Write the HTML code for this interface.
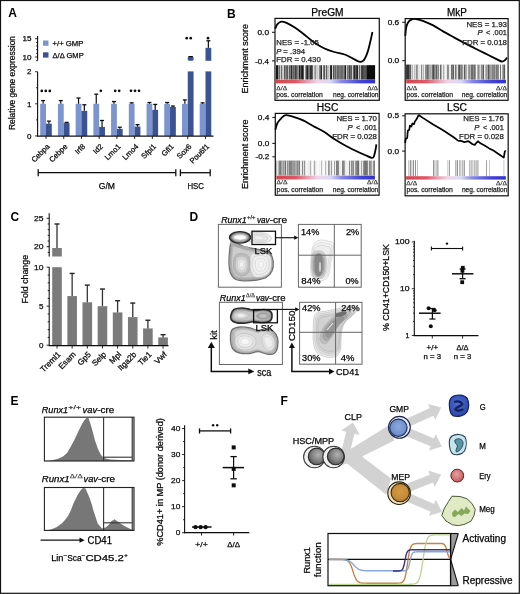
<!DOCTYPE html>
<html><head><meta charset="utf-8"><style>
html,body{margin:0;padding:0;background:#fff;}
body{width:520px;height:594px;overflow:hidden;}
svg{display:block;font-family:"Liberation Sans", sans-serif;}
</style></head><body>
<svg width="520" height="594" viewBox="0 0 520 594">
<defs>
<filter id="bl1" x="-30%" y="-30%" width="160%" height="160%"><feGaussianBlur stdDeviation="1"/></filter>
<filter id="bl2" x="-30%" y="-30%" width="160%" height="160%"><feGaussianBlur stdDeviation="2"/></filter>
<filter id="bh" x="-5%" y="-5%" width="110%" height="110%"><feGaussianBlur stdDeviation="0.55 0.2"/></filter>
<filter id="gblur" x="0" y="0" width="520" height="594" filterUnits="userSpaceOnUse"><feGaussianBlur stdDeviation="0.35"/></filter>
<filter id="bl05" x="-30%" y="-30%" width="160%" height="160%"><feGaussianBlur stdDeviation="0.6"/></filter>
<linearGradient id="cbar" x1="0" x2="1" y1="0" y2="0">
<stop offset="0" stop-color="#d4444e"/><stop offset="0.2" stop-color="#da5a66"/><stop offset="0.32" stop-color="#e6a0b2"/><stop offset="0.42" stop-color="#eed6e8"/>
<stop offset="0.55" stop-color="#d8d8f4"/><stop offset="0.66" stop-color="#8a8ae4"/><stop offset="0.85" stop-color="#4646d2"/><stop offset="1" stop-color="#3030c6"/>
</linearGradient>

<radialGradient id="gHSC" cx="0.6" cy="0.4" r="0.65"><stop offset="0" stop-color="#b0b0b0"/><stop offset="0.55" stop-color="#858585"/><stop offset="1" stop-color="#555"/></radialGradient>
<radialGradient id="gGMP" cx="0.5" cy="0.45" r="0.6"><stop offset="0" stop-color="#8ea9dc"/><stop offset="0.7" stop-color="#7090cf"/><stop offset="1" stop-color="#4a68a8"/></radialGradient>
<radialGradient id="gMEP" cx="0.5" cy="0.45" r="0.6"><stop offset="0" stop-color="#d49a44"/><stop offset="0.7" stop-color="#c48a38"/><stop offset="1" stop-color="#9a6a24"/></radialGradient>
<radialGradient id="gEry" cx="0.45" cy="0.4" r="0.6"><stop offset="0" stop-color="#e8a0a0"/><stop offset="1" stop-color="#c45c5c"/></radialGradient>
<radialGradient id="gG" cx="0.45" cy="0.4" r="0.6"><stop offset="0" stop-color="#4c6cd2"/><stop offset="1" stop-color="#2c48aa"/></radialGradient>

</defs>
<rect x="0" y="0" width="520" height="594" fill="#fff"/>
<g filter="url(#gblur)">
<text x="8.2" y="17.3" font-size="12" font-weight="bold" >A</text>
<text x="15.3" y="83" font-size="8.4" text-anchor="middle" stroke="#111" stroke-width="0.25" textLength="94" lengthAdjust="spacingAndGlyphs" transform="rotate(-90 15.3 83)" >Relative gene expression</text>
<line x1="37.6" y1="36" x2="37.6" y2="60.6" stroke="#111" stroke-width="1.1" />
<line x1="36.1" y1="60.66" x2="37.6" y2="60.66" stroke="#111" stroke-width="0.9" />
<line x1="35.1" y1="57" x2="37.6" y2="57" stroke="#111" stroke-width="0.9" />
<line x1="36.1" y1="53.34" x2="37.6" y2="53.34" stroke="#111" stroke-width="0.9" />
<line x1="36.1" y1="49.68" x2="37.6" y2="49.68" stroke="#111" stroke-width="0.9" />
<line x1="36.1" y1="46.02" x2="37.6" y2="46.02" stroke="#111" stroke-width="0.9" />
<line x1="36.1" y1="42.36" x2="37.6" y2="42.36" stroke="#111" stroke-width="0.9" />
<line x1="35.1" y1="38.7" x2="37.6" y2="38.7" stroke="#111" stroke-width="0.9" />
<text x="31.5" y="41.45" font-size="8" text-anchor="end" stroke="#111" stroke-width="0.25" textLength="9" lengthAdjust="spacingAndGlyphs" >15</text>
<text x="31.5" y="59.75" font-size="8" text-anchor="end" stroke="#111" stroke-width="0.25" textLength="9" lengthAdjust="spacingAndGlyphs" >10</text>
<line x1="37.6" y1="71.8" x2="37.6" y2="136.4" stroke="#111" stroke-width="1.1" />
<line x1="35.1" y1="135.9" x2="37.6" y2="135.9" stroke="#111" stroke-width="0.9" />
<line x1="36.1" y1="119.85" x2="37.6" y2="119.85" stroke="#111" stroke-width="0.9" />
<line x1="35.1" y1="103.8" x2="37.6" y2="103.8" stroke="#111" stroke-width="0.9" />
<line x1="36.1" y1="87.75" x2="37.6" y2="87.75" stroke="#111" stroke-width="0.9" />
<line x1="35.1" y1="71.7" x2="37.6" y2="71.7" stroke="#111" stroke-width="0.9" />
<text x="31.5" y="74.45" font-size="8" text-anchor="end" stroke="#111" stroke-width="0.25" >2</text>
<text x="31.5" y="106.55" font-size="8" text-anchor="end" stroke="#111" stroke-width="0.25" >1</text>
<text x="31.5" y="138.65" font-size="8" text-anchor="end" stroke="#111" stroke-width="0.25" >0</text>
<rect x="43" y="40.5" width="5.5" height="5.3" fill="#7d95cf" />
<rect x="43" y="52.3" width="5.5" height="5.3" fill="#3b5290" />
<text x="52.5" y="45.95" font-size="7.7" stroke="#111" stroke-width="0.25" textLength="30.8" lengthAdjust="spacingAndGlyphs" >+/+ GMP</text>
<text x="52.5" y="57.65" font-size="7.7" stroke="#111" stroke-width="0.25" textLength="31.2" lengthAdjust="spacingAndGlyphs" >Δ/Δ GMP</text>
<rect x="40.2" y="103.8" width="5.8" height="32.1" fill="#7d95cf" />
<line x1="43.1" y1="103.8" x2="43.1" y2="100.59" stroke="#111" stroke-width="1.2" />
<line x1="41.1" y1="100.59" x2="45.1" y2="100.59" stroke="#111" stroke-width="1.3" />
<rect x="46" y="123.7" width="5.8" height="12.2" fill="#3b5290" />
<line x1="48.9" y1="123.7" x2="48.9" y2="121.13" stroke="#111" stroke-width="1.2" />
<line x1="46.9" y1="121.13" x2="50.9" y2="121.13" stroke="#111" stroke-width="1.3" />
<line x1="46" y1="136" x2="46" y2="139" stroke="#111" stroke-width="0.9" />
<text x="50.3" y="147" font-size="7.6" text-anchor="end" stroke="#111" stroke-width="0.25" transform="rotate(-45 50.3 147)" >Cebpa</text>
<rect x="57.92" y="103.8" width="5.8" height="32.1" fill="#7d95cf" />
<line x1="60.82" y1="103.8" x2="60.82" y2="100.59" stroke="#111" stroke-width="1.2" />
<line x1="58.82" y1="100.59" x2="62.82" y2="100.59" stroke="#111" stroke-width="1.3" />
<rect x="63.72" y="123.06" width="5.8" height="12.84" fill="#3b5290" />
<line x1="66.62" y1="123.06" x2="66.62" y2="122.42" stroke="#111" stroke-width="1.2" />
<line x1="64.62" y1="122.42" x2="68.62" y2="122.42" stroke="#111" stroke-width="1.3" />
<line x1="63.72" y1="136" x2="63.72" y2="139" stroke="#111" stroke-width="0.9" />
<text x="68.02" y="147" font-size="7.6" text-anchor="end" stroke="#111" stroke-width="0.25" transform="rotate(-45 68.02 147)" >Cebpe</text>
<rect x="75.64" y="103.8" width="5.8" height="32.1" fill="#7d95cf" />
<line x1="78.54" y1="103.8" x2="78.54" y2="98.02" stroke="#111" stroke-width="1.2" />
<line x1="76.54" y1="98.02" x2="80.54" y2="98.02" stroke="#111" stroke-width="1.3" />
<rect x="81.44" y="110.86" width="5.8" height="25.04" fill="#3b5290" />
<line x1="84.34" y1="110.86" x2="84.34" y2="104.76" stroke="#111" stroke-width="1.2" />
<line x1="82.34" y1="104.76" x2="86.34" y2="104.76" stroke="#111" stroke-width="1.3" />
<line x1="81.44" y1="136" x2="81.44" y2="139" stroke="#111" stroke-width="0.9" />
<text x="85.74" y="147" font-size="7.6" text-anchor="end" stroke="#111" stroke-width="0.25" transform="rotate(-45 85.74 147)" >Irf8</text>
<rect x="93.36" y="103.8" width="5.8" height="32.1" fill="#7d95cf" />
<line x1="96.26" y1="103.8" x2="96.26" y2="94.17" stroke="#111" stroke-width="1.2" />
<line x1="94.26" y1="94.17" x2="98.26" y2="94.17" stroke="#111" stroke-width="1.3" />
<rect x="99.16" y="126.91" width="5.8" height="8.99" fill="#3b5290" />
<line x1="102.06" y1="126.91" x2="102.06" y2="120.49" stroke="#111" stroke-width="1.2" />
<line x1="100.06" y1="120.49" x2="104.06" y2="120.49" stroke="#111" stroke-width="1.3" />
<line x1="99.16" y1="136" x2="99.16" y2="139" stroke="#111" stroke-width="0.9" />
<text x="103.46" y="147" font-size="7.6" text-anchor="end" stroke="#111" stroke-width="0.25" transform="rotate(-45 103.46 147)" >Id2</text>
<rect x="111.08" y="103.8" width="5.8" height="32.1" fill="#7d95cf" />
<line x1="113.98" y1="103.8" x2="113.98" y2="101.55" stroke="#111" stroke-width="1.2" />
<line x1="111.98" y1="101.55" x2="115.98" y2="101.55" stroke="#111" stroke-width="1.3" />
<rect x="116.88" y="128.84" width="5.8" height="7.06" fill="#3b5290" />
<line x1="119.78" y1="128.84" x2="119.78" y2="127.23" stroke="#111" stroke-width="1.2" />
<line x1="117.78" y1="127.23" x2="121.78" y2="127.23" stroke="#111" stroke-width="1.3" />
<line x1="116.88" y1="136" x2="116.88" y2="139" stroke="#111" stroke-width="0.9" />
<text x="121.18" y="147" font-size="7.6" text-anchor="end" stroke="#111" stroke-width="0.25" transform="rotate(-45 121.18 147)" >Lmo1</text>
<rect x="128.8" y="103.8" width="5.8" height="32.1" fill="#7d95cf" />
<line x1="131.7" y1="103.8" x2="131.7" y2="102.84" stroke="#111" stroke-width="1.2" />
<line x1="129.7" y1="102.84" x2="133.7" y2="102.84" stroke="#111" stroke-width="1.3" />
<rect x="134.6" y="126.59" width="5.8" height="9.31" fill="#3b5290" />
<line x1="137.5" y1="126.59" x2="137.5" y2="124.67" stroke="#111" stroke-width="1.2" />
<line x1="135.5" y1="124.67" x2="139.5" y2="124.67" stroke="#111" stroke-width="1.3" />
<line x1="134.6" y1="136" x2="134.6" y2="139" stroke="#111" stroke-width="0.9" />
<text x="138.9" y="147" font-size="7.6" text-anchor="end" stroke="#111" stroke-width="0.25" transform="rotate(-45 138.9 147)" >Lmo4</text>
<rect x="146.52" y="103.8" width="5.8" height="32.1" fill="#7d95cf" />
<line x1="149.42" y1="103.8" x2="149.42" y2="102.52" stroke="#111" stroke-width="1.2" />
<line x1="147.42" y1="102.52" x2="151.42" y2="102.52" stroke="#111" stroke-width="1.3" />
<rect x="152.32" y="109.9" width="5.8" height="26" fill="#3b5290" />
<line x1="155.22" y1="109.9" x2="155.22" y2="104.44" stroke="#111" stroke-width="1.2" />
<line x1="153.22" y1="104.44" x2="157.22" y2="104.44" stroke="#111" stroke-width="1.3" />
<line x1="152.32" y1="136" x2="152.32" y2="139" stroke="#111" stroke-width="0.9" />
<text x="156.62" y="147" font-size="7.6" text-anchor="end" stroke="#111" stroke-width="0.25" transform="rotate(-45 156.62 147)" >Sfpi1</text>
<rect x="164.24" y="103.8" width="5.8" height="32.1" fill="#7d95cf" />
<line x1="167.14" y1="103.8" x2="167.14" y2="102.52" stroke="#111" stroke-width="1.2" />
<line x1="165.14" y1="102.52" x2="169.14" y2="102.52" stroke="#111" stroke-width="1.3" />
<rect x="170.04" y="107.01" width="5.8" height="28.89" fill="#3b5290" />
<line x1="172.94" y1="107.01" x2="172.94" y2="106.05" stroke="#111" stroke-width="1.2" />
<line x1="170.94" y1="106.05" x2="174.94" y2="106.05" stroke="#111" stroke-width="1.3" />
<line x1="170.04" y1="136" x2="170.04" y2="139" stroke="#111" stroke-width="0.9" />
<text x="174.34" y="147" font-size="7.6" text-anchor="end" stroke="#111" stroke-width="0.25" transform="rotate(-45 174.34 147)" >Gfi1</text>
<rect x="181.96" y="103.8" width="5.8" height="32.1" fill="#7d95cf" />
<line x1="184.86" y1="103.8" x2="184.86" y2="99.95" stroke="#111" stroke-width="1.2" />
<line x1="182.86" y1="99.95" x2="186.86" y2="99.95" stroke="#111" stroke-width="1.3" />
<rect x="187.76" y="71.4" width="5.8" height="64.5" fill="#3b5290" />
<rect x="187.76" y="56.2" width="5.8" height="4.6" fill="#3b5290" rx="1.5"/>
<line x1="188.56" y1="56.6" x2="192.76" y2="56.6" stroke="#111" stroke-width="1.2" />
<line x1="187.76" y1="136" x2="187.76" y2="139" stroke="#111" stroke-width="0.9" />
<text x="192.06" y="147" font-size="7.6" text-anchor="end" stroke="#111" stroke-width="0.25" transform="rotate(-45 192.06 147)" >Sox6</text>
<rect x="199.68" y="103.8" width="5.8" height="32.1" fill="#7d95cf" />
<line x1="202.58" y1="103.8" x2="202.58" y2="102.84" stroke="#111" stroke-width="1.2" />
<line x1="200.58" y1="102.84" x2="204.58" y2="102.84" stroke="#111" stroke-width="1.3" />
<rect x="205.48" y="71.4" width="5.8" height="64.5" fill="#3b5290" />
<rect x="205.48" y="47.8" width="5.8" height="13" fill="#3b5290" />
<line x1="208.38" y1="47.8" x2="208.38" y2="40.8" stroke="#111" stroke-width="1.2" />
<line x1="206.38" y1="40.8" x2="210.38" y2="40.8" stroke="#111" stroke-width="1.3" />
<line x1="205.48" y1="136" x2="205.48" y2="139" stroke="#111" stroke-width="0.9" />
<text x="209.78" y="147" font-size="7.6" text-anchor="end" stroke="#111" stroke-width="0.25" transform="rotate(-45 209.78 147)" >Pou6f1</text>
<line x1="37.1" y1="136.1" x2="213.5" y2="136.1" stroke="#111" stroke-width="1.2" />
<circle cx="41.8" cy="90.9" r="1.35" fill="#111"/>
<circle cx="45.8" cy="90.9" r="1.35" fill="#111"/>
<circle cx="49.8" cy="90.9" r="1.35" fill="#111"/>
<circle cx="100.8" cy="90.8" r="1.35" fill="#111"/>
<circle cx="115.2" cy="90.8" r="1.35" fill="#111"/>
<circle cx="119.2" cy="90.8" r="1.35" fill="#111"/>
<circle cx="131" cy="90.8" r="1.35" fill="#111"/>
<circle cx="135" cy="90.8" r="1.35" fill="#111"/>
<circle cx="139" cy="90.8" r="1.35" fill="#111"/>
<circle cx="186.7" cy="38.2" r="1.35" fill="#111"/>
<circle cx="190.7" cy="38.2" r="1.35" fill="#111"/>
<circle cx="208" cy="38.2" r="1.35" fill="#111"/>
<line x1="38.2" y1="172.7" x2="175.8" y2="172.7" stroke="#111" stroke-width="1.3" />
<line x1="38.2" y1="169.3" x2="38.2" y2="176.2" stroke="#111" stroke-width="1.3" />
<line x1="175.8" y1="169.3" x2="175.8" y2="176.2" stroke="#111" stroke-width="1.3" />
<line x1="180.4" y1="172.7" x2="210.2" y2="172.7" stroke="#111" stroke-width="1.3" />
<line x1="180.4" y1="169.3" x2="180.4" y2="176.2" stroke="#111" stroke-width="1.3" />
<line x1="210.2" y1="169.3" x2="210.2" y2="176.2" stroke="#111" stroke-width="1.3" />
<text x="98.8" y="188.6" font-size="9" stroke="#111" stroke-width="0.25" textLength="16.2" lengthAdjust="spacingAndGlyphs" >G/M</text>
<text x="187.4" y="188.6" font-size="9" stroke="#111" stroke-width="0.25" textLength="16.5" lengthAdjust="spacingAndGlyphs" >HSC</text>
<text x="227" y="17.6" font-size="12" font-weight="bold" >B</text>
<text x="248.2" y="58.7" font-size="9.8" text-anchor="middle" stroke="#111" stroke-width="0.25" textLength="69.5" lengthAdjust="spacingAndGlyphs" transform="rotate(-90 248.2 58.7)" >Enrichment score</text>
<text x="248.2" y="154.3" font-size="9.8" text-anchor="middle" stroke="#111" stroke-width="0.25" textLength="69.5" lengthAdjust="spacingAndGlyphs" transform="rotate(-90 248.2 154.3)" >Enrichment score</text>
<text x="327.45" y="15.8" font-size="10" text-anchor="middle" stroke="#111" stroke-width="0.25" textLength="32.2" lengthAdjust="spacingAndGlyphs" >PreGM</text>
<line x1="272" y1="32.3" x2="275" y2="32.3" stroke="#111" stroke-width="1" />
<text x="269" y="34.98" font-size="7.8" text-anchor="end" stroke="#111" stroke-width="0.25" textLength="11.5" lengthAdjust="spacingAndGlyphs" >0.0</text>
<line x1="272" y1="60.9" x2="275" y2="60.9" stroke="#111" stroke-width="1" />
<text x="269" y="63.58" font-size="7.8" text-anchor="end" stroke="#111" stroke-width="0.25" textLength="13.8" lengthAdjust="spacingAndGlyphs" >-0.4</text>
<g filter="url(#bh)">
<rect x="276" y="65.2" width="1" height="14.4" fill="rgb(25,25,25)"/>
<rect x="277" y="65.2" width="1" height="14.4" fill="rgb(25,25,25)"/>
<rect x="278" y="65.2" width="1" height="14.4" fill="rgb(144,144,144)"/>
<rect x="279" y="65.2" width="1" height="14.4" fill="rgb(109,109,109)"/>
<rect x="280" y="65.2" width="1" height="14.4" fill="rgb(207,207,207)"/>
<rect x="281" y="65.2" width="1" height="14.4" fill="rgb(108,108,108)"/>
<rect x="282" y="65.2" width="1" height="14.4" fill="rgb(194,194,194)"/>
<rect x="283" y="65.2" width="1" height="14.4" fill="rgb(209,209,209)"/>
<rect x="284" y="65.2" width="1" height="14.4" fill="rgb(90,90,90)"/>
<rect x="285" y="65.2" width="1" height="14.4" fill="rgb(135,135,135)"/>
<rect x="286" y="65.2" width="1" height="14.4" fill="rgb(105,105,105)"/>
<rect x="287" y="65.2" width="1" height="14.4" fill="rgb(93,93,93)"/>
<rect x="288" y="65.2" width="1" height="14.4" fill="rgb(187,187,187)"/>
<rect x="289" y="65.2" width="1" height="14.4" fill="rgb(88,88,88)"/>
<rect x="290" y="65.2" width="1" height="14.4" fill="rgb(126,126,126)"/>
<rect x="291" y="65.2" width="1" height="14.4" fill="rgb(42,42,42)"/>
<rect x="292" y="65.2" width="1" height="14.4" fill="rgb(122,122,122)"/>
<rect x="293" y="65.2" width="1" height="14.4" fill="rgb(95,95,95)"/>
<rect x="294" y="65.2" width="1" height="14.4" fill="rgb(120,120,120)"/>
<rect x="295" y="65.2" width="1" height="14.4" fill="rgb(65,65,65)"/>
<rect x="296" y="65.2" width="1" height="14.4" fill="rgb(95,95,95)"/>
<rect x="297" y="65.2" width="1" height="14.4" fill="rgb(125,125,125)"/>
<rect x="298" y="65.2" width="1" height="14.4" fill="rgb(150,150,150)"/>
<rect x="299" y="65.2" width="1" height="14.4" fill="rgb(34,34,34)"/>
<rect x="300" y="65.2" width="1" height="14.4" fill="rgb(98,98,98)"/>
<rect x="301" y="65.2" width="1" height="14.4" fill="rgb(48,48,48)"/>
<rect x="302" y="65.2" width="1" height="14.4" fill="rgb(31,31,31)"/>
<rect x="303" y="65.2" width="1" height="14.4" fill="rgb(85,85,85)"/>
<rect x="304" y="65.2" width="1" height="14.4" fill="rgb(234,234,234)"/>
<rect x="305" y="65.2" width="1" height="14.4" fill="rgb(145,145,145)"/>
<rect x="306" y="65.2" width="1" height="14.4" fill="rgb(75,75,75)"/>
<rect x="307" y="65.2" width="1" height="14.4" fill="rgb(34,34,34)"/>
<rect x="308" y="65.2" width="1" height="14.4" fill="rgb(110,110,110)"/>
<rect x="309" y="65.2" width="1" height="14.4" fill="rgb(119,119,119)"/>
<rect x="310" y="65.2" width="1" height="14.4" fill="rgb(49,49,49)"/>
<rect x="311" y="65.2" width="1" height="14.4" fill="rgb(56,56,56)"/>
<rect x="312" y="65.2" width="1" height="14.4" fill="rgb(100,100,100)"/>
<rect x="313" y="65.2" width="1" height="14.4" fill="rgb(220,220,220)"/>
<rect x="314" y="65.2" width="1" height="14.4" fill="rgb(178,178,178)"/>
<rect x="315" y="65.2" width="1" height="14.4" fill="rgb(147,147,147)"/>
<rect x="316" y="65.2" width="1" height="14.4" fill="rgb(210,210,210)"/>
<rect x="317" y="65.2" width="1" height="14.4" fill="rgb(207,207,207)"/>
<rect x="318" y="65.2" width="1" height="14.4" fill="rgb(221,221,221)"/>
<rect x="319" y="65.2" width="1" height="14.4" fill="rgb(138,138,138)"/>
<rect x="320" y="65.2" width="1" height="14.4" fill="rgb(99,99,99)"/>
<rect x="321" y="65.2" width="1" height="14.4" fill="rgb(43,43,43)"/>
<rect x="322" y="65.2" width="1" height="14.4" fill="rgb(230,230,230)"/>
<rect x="323" y="65.2" width="1" height="14.4" fill="rgb(123,123,123)"/>
<rect x="324" y="65.2" width="1" height="14.4" fill="rgb(87,87,87)"/>
<rect x="325" y="65.2" width="1" height="14.4" fill="rgb(200,200,200)"/>
<rect x="326" y="65.2" width="1" height="14.4" fill="rgb(97,97,97)"/>
<rect x="327" y="65.2" width="1" height="14.4" fill="rgb(184,184,184)"/>
<rect x="328" y="65.2" width="1" height="14.4" fill="rgb(191,191,191)"/>
<rect x="329" y="65.2" width="1" height="14.4" fill="rgb(214,214,214)"/>
<rect x="330" y="65.2" width="1" height="14.4" fill="rgb(48,48,48)"/>
<rect x="331" y="65.2" width="1" height="14.4" fill="rgb(34,34,34)"/>
<rect x="332" y="65.2" width="1" height="14.4" fill="rgb(212,212,212)"/>
<rect x="333" y="65.2" width="1" height="14.4" fill="rgb(86,86,86)"/>
<rect x="334" y="65.2" width="1" height="14.4" fill="rgb(132,132,132)"/>
<rect x="335" y="65.2" width="1" height="14.4" fill="rgb(101,101,101)"/>
<rect x="336" y="65.2" width="1" height="14.4" fill="rgb(146,146,146)"/>
<rect x="337" y="65.2" width="1" height="14.4" fill="rgb(102,102,102)"/>
<rect x="338" y="65.2" width="1" height="14.4" fill="rgb(108,108,108)"/>
<rect x="339" y="65.2" width="1" height="14.4" fill="rgb(124,124,124)"/>
<rect x="340" y="65.2" width="1" height="14.4" fill="rgb(116,116,116)"/>
<rect x="341" y="65.2" width="1" height="14.4" fill="rgb(105,105,105)"/>
<rect x="342" y="65.2" width="1" height="14.4" fill="rgb(110,110,110)"/>
<rect x="343" y="65.2" width="1" height="14.4" fill="rgb(134,134,134)"/>
<rect x="344" y="65.2" width="1" height="14.4" fill="rgb(95,95,95)"/>
<rect x="345" y="65.2" width="1" height="14.4" fill="rgb(36,36,36)"/>
<rect x="346" y="65.2" width="1" height="14.4" fill="rgb(207,207,207)"/>
<rect x="347" y="65.2" width="1" height="14.4" fill="rgb(115,115,115)"/>
<rect x="348" y="65.2" width="1" height="14.4" fill="rgb(135,135,135)"/>
<rect x="349" y="65.2" width="1" height="14.4" fill="rgb(68,68,68)"/>
<rect x="350" y="65.2" width="1" height="14.4" fill="rgb(107,107,107)"/>
<rect x="351" y="65.2" width="1" height="14.4" fill="rgb(93,93,93)"/>
<rect x="352" y="65.2" width="1" height="14.4" fill="rgb(205,205,205)"/>
<rect x="353" y="65.2" width="1" height="14.4" fill="rgb(94,94,94)"/>
<rect x="354" y="65.2" width="1" height="14.4" fill="rgb(43,43,43)"/>
<rect x="355" y="65.2" width="1" height="14.4" fill="rgb(93,93,93)"/>
<rect x="356" y="65.2" width="1" height="14.4" fill="rgb(58,58,58)"/>
<rect x="357" y="65.2" width="1" height="14.4" fill="rgb(32,32,32)"/>
<rect x="358" y="65.2" width="1" height="14.4" fill="rgb(198,198,198)"/>
<rect x="359" y="65.2" width="1" height="14.4" fill="rgb(101,101,101)"/>
<rect x="360" y="65.2" width="1" height="14.4" fill="rgb(183,183,183)"/>
<rect x="361" y="65.2" width="1" height="14.4" fill="rgb(68,68,68)"/>
<rect x="362" y="65.2" width="1" height="14.4" fill="rgb(61,61,61)"/>
<rect x="363" y="65.2" width="1" height="14.4" fill="rgb(82,82,82)"/>
<rect x="364" y="65.2" width="1" height="14.4" fill="rgb(86,86,86)"/>
<rect x="365" y="65.2" width="1" height="14.4" fill="rgb(84,84,84)"/>
<rect x="366" y="65.2" width="1" height="14.4" fill="rgb(73,73,73)"/>
<rect x="367" y="65.2" width="1" height="14.4" fill="rgb(8,8,8)"/>
<rect x="368" y="65.2" width="1" height="14.4" fill="rgb(8,8,8)"/>
<rect x="369" y="65.2" width="1" height="14.4" fill="rgb(8,8,8)"/>
<rect x="370" y="65.2" width="1" height="14.4" fill="rgb(8,8,8)"/>
<rect x="371" y="65.2" width="1" height="14.4" fill="rgb(8,8,8)"/>
<rect x="372" y="65.2" width="1" height="14.4" fill="rgb(8,8,8)"/>
<rect x="373" y="65.2" width="1" height="14.4" fill="rgb(8,8,8)"/>
<rect x="374" y="65.2" width="1" height="14.4" fill="rgb(8,8,8)"/>
<rect x="375" y="65.2" width="0.1" height="14.4" fill="rgb(8,8,8)"/>
</g>
<rect x="276" y="79.8" width="99.1" height="3.6" fill="url(#cbar)" />
<text x="276.2" y="89.91" font-size="7" fill="#333" stroke="#333" stroke-width="0.25" font-family='"Liberation Serif", serif' >Δ/Δ</text>
<text x="378.1" y="89.91" font-size="7" text-anchor="end" fill="#333" stroke="#333" stroke-width="0.25" font-family='"Liberation Serif", serif' >Δ/Δ</text>
<text x="276.3" y="97.17" font-size="6.9" fill="#222" stroke="#222" stroke-width="0.25" textLength="46.5" lengthAdjust="spacingAndGlyphs" >pos. correlation</text>
<text x="378.5" y="97.17" font-size="6.9" text-anchor="end" fill="#222" stroke="#222" stroke-width="0.25" textLength="45.5" lengthAdjust="spacingAndGlyphs" >neg. correlation</text>
<path d="M275.2 28.8 C275.53 28.05 276.18 25.5 277.2 24.3 C278.22 23.1 279.75 21.83 281.3 21.6 C282.85 21.37 284.25 21.92 286.5 22.9 C288.75 23.88 292.02 25.7 294.8 27.5 C297.58 29.3 300.08 31.28 303.2 33.7 C306.32 36.12 310.03 39.58 313.5 42 C316.97 44.42 320.53 46.53 324 48.2 C327.47 49.87 330.85 50.95 334.3 52 C337.75 53.05 341.58 53.4 344.7 54.5 C347.82 55.6 350.58 57.42 353 58.6 C355.42 59.78 357.47 61.25 359.2 61.6 C360.93 61.95 362.02 62.23 363.4 60.7 C364.78 59.17 366.28 55.85 367.5 52.4 C368.72 48.95 369.88 43.4 370.7 40 C371.52 36.6 372.12 33.33 372.4 32" fill="none" stroke="#000" stroke-width="1.8" stroke-linejoin="round"/>
<text x="276.3" y="44.68" font-size="7.8" fill="#222" stroke="#222" stroke-width="0.25" textLength="42.5" lengthAdjust="spacingAndGlyphs" >NES = -1.05</text>
<text x="276.3" y="53.98" font-size="7.8" font-style="italic" fill="#222" stroke="#222" stroke-width="0.25" >P</text>
<text x="283.3" y="53.98" font-size="7.8" fill="#222" stroke="#222" stroke-width="0.25" textLength="21.8" lengthAdjust="spacingAndGlyphs" >= .394</text>
<text x="276.3" y="62.48" font-size="7.8" fill="#222" stroke="#222" stroke-width="0.25" textLength="44.5" lengthAdjust="spacingAndGlyphs" >FDR = 0.430</text>
<rect x="275" y="18.4" width="104.3" height="81.9" fill="none" stroke="#111" stroke-width="1.2" />
<text x="456.95" y="16" font-size="10" text-anchor="middle" stroke="#111" stroke-width="0.25" textLength="19.8" lengthAdjust="spacingAndGlyphs" >MkP</text>
<line x1="402.2" y1="22.3" x2="405.2" y2="22.3" stroke="#111" stroke-width="1" />
<text x="399.2" y="24.98" font-size="7.8" text-anchor="end" stroke="#111" stroke-width="0.25" textLength="11.5" lengthAdjust="spacingAndGlyphs" >0.6</text>
<line x1="402.2" y1="60.7" x2="405.2" y2="60.7" stroke="#111" stroke-width="1" />
<text x="399.2" y="63.38" font-size="7.8" text-anchor="end" stroke="#111" stroke-width="0.25" textLength="11.5" lengthAdjust="spacingAndGlyphs" >0.0</text>
<g filter="url(#bh)">
<rect x="406.2" y="64.6" width="1" height="15" fill="rgb(15,15,15)"/>
<rect x="407.2" y="64.6" width="1" height="15" fill="rgb(15,15,15)"/>
<rect x="408.2" y="64.6" width="1" height="15" fill="rgb(15,15,15)"/>
<rect x="409.2" y="64.6" width="1" height="15" fill="rgb(82,82,82)"/>
<rect x="410.2" y="64.6" width="1" height="15" fill="rgb(62,62,62)"/>
<rect x="411.2" y="64.6" width="1" height="15" fill="rgb(215,215,215)"/>
<rect x="412.2" y="64.6" width="1" height="15" fill="rgb(161,161,161)"/>
<rect x="413.2" y="64.6" width="1" height="15" fill="rgb(244,244,244)"/>
<rect x="414.2" y="64.6" width="1" height="15" fill="rgb(176,176,176)"/>
<rect x="415.2" y="64.6" width="1" height="15" fill="rgb(215,215,215)"/>
<rect x="416.2" y="64.6" width="1" height="15" fill="rgb(118,118,118)"/>
<rect x="417.2" y="64.6" width="1" height="15" fill="rgb(147,147,147)"/>
<rect x="418.2" y="64.6" width="1" height="15" fill="rgb(228,228,228)"/>
<rect x="419.2" y="64.6" width="1" height="15" fill="rgb(227,227,227)"/>
<rect x="420.2" y="64.6" width="1" height="15" fill="rgb(236,236,236)"/>
<rect x="421.2" y="64.6" width="1" height="15" fill="rgb(111,111,111)"/>
<rect x="422.2" y="64.6" width="1" height="15" fill="rgb(218,218,218)"/>
<rect x="423.2" y="64.6" width="1" height="15" fill="rgb(165,165,165)"/>
<rect x="424.2" y="64.6" width="1" height="15" fill="rgb(242,242,242)"/>
<rect x="425.2" y="64.6" width="1" height="15" fill="rgb(114,114,114)"/>
<rect x="426.2" y="64.6" width="1" height="15" fill="rgb(117,117,117)"/>
<rect x="427.2" y="64.6" width="1" height="15" fill="rgb(79,79,79)"/>
<rect x="428.2" y="64.6" width="1" height="15" fill="rgb(106,106,106)"/>
<rect x="429.2" y="64.6" width="1" height="15" fill="rgb(164,164,164)"/>
<rect x="430.2" y="64.6" width="1" height="15" fill="rgb(151,151,151)"/>
<rect x="431.2" y="64.6" width="1" height="15" fill="rgb(176,176,176)"/>
<rect x="432.2" y="64.6" width="1" height="15" fill="rgb(78,78,78)"/>
<rect x="433.2" y="64.6" width="1" height="15" fill="rgb(41,41,41)"/>
<rect x="434.2" y="64.6" width="1" height="15" fill="rgb(110,110,110)"/>
<rect x="435.2" y="64.6" width="1" height="15" fill="rgb(133,133,133)"/>
<rect x="436.2" y="64.6" width="1" height="15" fill="rgb(63,63,63)"/>
<rect x="437.2" y="64.6" width="1" height="15" fill="rgb(149,149,149)"/>
<rect x="438.2" y="64.6" width="1" height="15" fill="rgb(114,114,114)"/>
<rect x="439.2" y="64.6" width="1" height="15" fill="rgb(236,236,236)"/>
<rect x="440.2" y="64.6" width="1" height="15" fill="rgb(72,72,72)"/>
<rect x="441.2" y="64.6" width="1" height="15" fill="rgb(164,164,164)"/>
<rect x="442.2" y="64.6" width="1" height="15" fill="rgb(239,239,239)"/>
<rect x="443.2" y="64.6" width="1" height="15" fill="rgb(155,155,155)"/>
<rect x="444.2" y="64.6" width="1" height="15" fill="rgb(216,216,216)"/>
<rect x="445.2" y="64.6" width="1" height="15" fill="rgb(242,242,242)"/>
<rect x="446.2" y="64.6" width="1" height="15" fill="rgb(228,228,228)"/>
<rect x="447.2" y="64.6" width="1" height="15" fill="rgb(113,113,113)"/>
<rect x="448.2" y="64.6" width="1" height="15" fill="rgb(128,128,128)"/>
<rect x="449.2" y="64.6" width="1" height="15" fill="rgb(232,232,232)"/>
<rect x="450.2" y="64.6" width="1" height="15" fill="rgb(232,232,232)"/>
<rect x="451.2" y="64.6" width="1" height="15" fill="rgb(78,78,78)"/>
<rect x="452.2" y="64.6" width="1" height="15" fill="rgb(106,106,106)"/>
<rect x="453.2" y="64.6" width="1" height="15" fill="rgb(63,63,63)"/>
<rect x="454.2" y="64.6" width="1" height="15" fill="rgb(233,233,233)"/>
<rect x="455.2" y="64.6" width="1" height="15" fill="rgb(84,84,84)"/>
<rect x="456.2" y="64.6" width="1" height="15" fill="rgb(161,161,161)"/>
<rect x="457.2" y="64.6" width="1" height="15" fill="rgb(225,225,225)"/>
<rect x="458.2" y="64.6" width="1" height="15" fill="rgb(75,75,75)"/>
<rect x="459.2" y="64.6" width="1" height="15" fill="rgb(52,52,52)"/>
<rect x="460.2" y="64.6" width="1" height="15" fill="rgb(128,128,128)"/>
<rect x="461.2" y="64.6" width="1" height="15" fill="rgb(100,100,100)"/>
<rect x="462.2" y="64.6" width="1" height="15" fill="rgb(143,143,143)"/>
<rect x="463.2" y="64.6" width="1" height="15" fill="rgb(215,215,215)"/>
<rect x="464.2" y="64.6" width="1" height="15" fill="rgb(55,55,55)"/>
<rect x="465.2" y="64.6" width="1" height="15" fill="rgb(146,146,146)"/>
<rect x="466.2" y="64.6" width="1" height="15" fill="rgb(164,164,164)"/>
<rect x="467.2" y="64.6" width="1" height="15" fill="rgb(235,235,235)"/>
<rect x="468.2" y="64.6" width="1" height="15" fill="rgb(135,135,135)"/>
<rect x="469.2" y="64.6" width="1" height="15" fill="rgb(129,129,129)"/>
<rect x="470.2" y="64.6" width="1" height="15" fill="rgb(164,164,164)"/>
<rect x="471.2" y="64.6" width="1" height="15" fill="rgb(80,80,80)"/>
<rect x="472.2" y="64.6" width="1" height="15" fill="rgb(83,83,83)"/>
<rect x="473.2" y="64.6" width="1" height="15" fill="rgb(120,120,120)"/>
<rect x="474.2" y="64.6" width="1" height="15" fill="rgb(79,79,79)"/>
<rect x="475.2" y="64.6" width="1" height="15" fill="rgb(135,135,135)"/>
<rect x="476.2" y="64.6" width="1" height="15" fill="rgb(247,247,247)"/>
<rect x="477.2" y="64.6" width="1" height="15" fill="rgb(156,156,156)"/>
<rect x="478.2" y="64.6" width="1" height="15" fill="rgb(127,127,127)"/>
<rect x="479.2" y="64.6" width="1" height="15" fill="rgb(166,166,166)"/>
<rect x="480.2" y="64.6" width="1" height="15" fill="rgb(215,215,215)"/>
<rect x="481.2" y="64.6" width="1" height="15" fill="rgb(116,116,116)"/>
<rect x="482.2" y="64.6" width="1" height="15" fill="rgb(134,134,134)"/>
<rect x="483.2" y="64.6" width="1" height="15" fill="rgb(55,55,55)"/>
<rect x="484.2" y="64.6" width="1" height="15" fill="rgb(245,245,245)"/>
<rect x="485.2" y="64.6" width="1" height="15" fill="rgb(171,171,171)"/>
<rect x="486.2" y="64.6" width="1" height="15" fill="rgb(133,133,133)"/>
<rect x="487.2" y="64.6" width="1" height="15" fill="rgb(153,153,153)"/>
<rect x="488.2" y="64.6" width="1" height="15" fill="rgb(45,45,45)"/>
<rect x="489.2" y="64.6" width="1" height="15" fill="rgb(125,125,125)"/>
<rect x="490.2" y="64.6" width="1" height="15" fill="rgb(144,144,144)"/>
<rect x="491.2" y="64.6" width="1" height="15" fill="rgb(149,149,149)"/>
<rect x="492.2" y="64.6" width="1" height="15" fill="rgb(102,102,102)"/>
<rect x="493.2" y="64.6" width="1" height="15" fill="rgb(119,119,119)"/>
<rect x="494.2" y="64.6" width="1" height="15" fill="rgb(104,104,104)"/>
<rect x="495.2" y="64.6" width="1" height="15" fill="rgb(153,153,153)"/>
<rect x="496.2" y="64.6" width="1" height="15" fill="rgb(90,90,90)"/>
<rect x="497.2" y="64.6" width="1" height="15" fill="rgb(112,112,112)"/>
<rect x="498.2" y="64.6" width="1" height="15" fill="rgb(124,124,124)"/>
<rect x="499.2" y="64.6" width="1" height="15" fill="rgb(249,249,249)"/>
<rect x="500.2" y="64.6" width="1" height="15" fill="rgb(79,79,79)"/>
<rect x="501.2" y="64.6" width="1" height="15" fill="rgb(249,249,249)"/>
<rect x="502.2" y="64.6" width="1" height="15" fill="rgb(150,150,150)"/>
<rect x="503.2" y="64.6" width="1" height="15" fill="rgb(109,109,109)"/>
<rect x="504.2" y="64.6" width="1" height="15" fill="rgb(60,60,60)"/>
<rect x="505.2" y="64.6" width="0.7" height="15" fill="rgb(236,236,236)"/>
</g>
<rect x="406.2" y="79.8" width="99.7" height="3.6" fill="url(#cbar)" />
<text x="406.4" y="89.91" font-size="7" fill="#333" stroke="#333" stroke-width="0.25" font-family='"Liberation Serif", serif' >Δ/Δ</text>
<text x="506.9" y="89.91" font-size="7" text-anchor="end" fill="#333" stroke="#333" stroke-width="0.25" font-family='"Liberation Serif", serif' >Δ/Δ</text>
<text x="406.5" y="97.17" font-size="6.9" fill="#222" stroke="#222" stroke-width="0.25" textLength="46.5" lengthAdjust="spacingAndGlyphs" >pos. correlation</text>
<text x="507.3" y="97.17" font-size="6.9" text-anchor="end" fill="#222" stroke="#222" stroke-width="0.25" textLength="45.5" lengthAdjust="spacingAndGlyphs" >neg. correlation</text>
<path d="M405.3 35.8 C405.45 34.42 405.72 29.75 406.2 27.5 C406.68 25.25 407.35 23.62 408.2 22.3 C409.05 20.98 410.25 20.17 411.3 19.6 C412.35 19.03 412.58 18.7 414.5 18.9 C416.42 19.1 419.68 19.72 422.8 20.8 C425.92 21.88 429.75 23.6 433.2 25.4 C436.65 27.2 440.03 29.6 443.5 31.6 C446.97 33.6 450.53 35.5 454 37.4 C457.47 39.3 460.85 41.2 464.3 43 C467.75 44.8 471.25 46.47 474.7 48.2 C478.15 49.93 481.53 51.67 485 53.4 C488.47 55.13 492.72 57.25 495.5 58.6 C498.28 59.95 500.15 61.22 501.7 61.5 C503.25 61.78 503.93 60.95 504.8 60.3 C505.67 59.65 506.55 58.05 506.9 57.6" fill="none" stroke="#000" stroke-width="1.8" stroke-linejoin="round"/>
<text x="506.9" y="26.98" font-size="7.8" text-anchor="end" fill="#222" stroke="#222" stroke-width="0.25" textLength="40.5" lengthAdjust="spacingAndGlyphs" >NES = 1.93</text>
<text x="477.4" y="35.48" font-size="7.8" font-style="italic" fill="#222" stroke="#222" stroke-width="0.25" >P</text>
<text x="506.9" y="35.48" font-size="7.8" text-anchor="end" fill="#222" stroke="#222" stroke-width="0.25" textLength="20.8" lengthAdjust="spacingAndGlyphs" >&lt; .001</text>
<text x="506.9" y="44.68" font-size="7.8" text-anchor="end" fill="#222" stroke="#222" stroke-width="0.25" textLength="44.7" lengthAdjust="spacingAndGlyphs" >FDR = 0.018</text>
<rect x="405.2" y="18.6" width="102.9" height="81.7" fill="none" stroke="#111" stroke-width="1.2" />
<text x="327.5" y="110.8" font-size="10" text-anchor="middle" stroke="#111" stroke-width="0.25" textLength="21.6" lengthAdjust="spacingAndGlyphs" >HSC</text>
<line x1="272.3" y1="117.4" x2="275.3" y2="117.4" stroke="#111" stroke-width="1" />
<text x="269.3" y="120.08" font-size="7.8" text-anchor="end" stroke="#111" stroke-width="0.25" textLength="11.5" lengthAdjust="spacingAndGlyphs" >0.4</text>
<line x1="272.3" y1="143.4" x2="275.3" y2="143.4" stroke="#111" stroke-width="1" />
<text x="269.3" y="146.08" font-size="7.8" text-anchor="end" stroke="#111" stroke-width="0.25" textLength="11.5" lengthAdjust="spacingAndGlyphs" >0.0</text>
<line x1="272.3" y1="156.8" x2="275.3" y2="156.8" stroke="#111" stroke-width="1" />
<text x="269.3" y="159.48" font-size="7.8" text-anchor="end" stroke="#111" stroke-width="0.25" textLength="13.8" lengthAdjust="spacingAndGlyphs" >-0.2</text>
<g filter="url(#bh)">
<rect x="276.3" y="160.6" width="1" height="14.9" fill="rgb(157,157,157)"/>
<rect x="277.3" y="160.6" width="1" height="14.9" fill="rgb(233,233,233)"/>
<rect x="278.3" y="160.6" width="1" height="14.9" fill="rgb(155,155,155)"/>
<rect x="279.3" y="160.6" width="1" height="14.9" fill="rgb(98,98,98)"/>
<rect x="280.3" y="160.6" width="1" height="14.9" fill="rgb(93,93,93)"/>
<rect x="281.3" y="160.6" width="1" height="14.9" fill="rgb(138,138,138)"/>
<rect x="282.3" y="160.6" width="1" height="14.9" fill="rgb(165,165,165)"/>
<rect x="283.3" y="160.6" width="1" height="14.9" fill="rgb(125,125,125)"/>
<rect x="284.3" y="160.6" width="1" height="14.9" fill="rgb(157,157,157)"/>
<rect x="285.3" y="160.6" width="1" height="14.9" fill="rgb(71,71,71)"/>
<rect x="286.3" y="160.6" width="1" height="14.9" fill="rgb(232,232,232)"/>
<rect x="287.3" y="160.6" width="1" height="14.9" fill="rgb(103,103,103)"/>
<rect x="288.3" y="160.6" width="1" height="14.9" fill="rgb(165,165,165)"/>
<rect x="289.3" y="160.6" width="1" height="14.9" fill="rgb(87,87,87)"/>
<rect x="290.3" y="160.6" width="1" height="14.9" fill="rgb(102,102,102)"/>
<rect x="291.3" y="160.6" width="1" height="14.9" fill="rgb(99,99,99)"/>
<rect x="292.3" y="160.6" width="1" height="14.9" fill="rgb(140,140,140)"/>
<rect x="293.3" y="160.6" width="1" height="14.9" fill="rgb(124,124,124)"/>
<rect x="294.3" y="160.6" width="1" height="14.9" fill="rgb(125,125,125)"/>
<rect x="295.3" y="160.6" width="1" height="14.9" fill="rgb(153,153,153)"/>
<rect x="296.3" y="160.6" width="1" height="14.9" fill="rgb(146,146,146)"/>
<rect x="297.3" y="160.6" width="1" height="14.9" fill="rgb(103,103,103)"/>
<rect x="298.3" y="160.6" width="1" height="14.9" fill="rgb(140,140,140)"/>
<rect x="299.3" y="160.6" width="1" height="14.9" fill="rgb(87,87,87)"/>
<rect x="300.3" y="160.6" width="1" height="14.9" fill="rgb(251,251,251)"/>
<rect x="301.3" y="160.6" width="1" height="14.9" fill="rgb(233,233,233)"/>
<rect x="302.3" y="160.6" width="1" height="14.9" fill="rgb(92,92,92)"/>
<rect x="303.3" y="160.6" width="1" height="14.9" fill="rgb(236,236,236)"/>
<rect x="304.3" y="160.6" width="1" height="14.9" fill="rgb(103,103,103)"/>
<rect x="305.3" y="160.6" width="1" height="14.9" fill="rgb(240,240,240)"/>
<rect x="306.3" y="160.6" width="1" height="14.9" fill="rgb(246,246,246)"/>
<rect x="307.3" y="160.6" width="1" height="14.9" fill="rgb(235,235,235)"/>
<rect x="308.3" y="160.6" width="1" height="14.9" fill="rgb(234,234,234)"/>
<rect x="309.3" y="160.6" width="1" height="14.9" fill="rgb(232,232,232)"/>
<rect x="310.3" y="160.6" width="1" height="14.9" fill="rgb(153,153,153)"/>
<rect x="311.3" y="160.6" width="1" height="14.9" fill="rgb(242,242,242)"/>
<rect x="312.3" y="160.6" width="1" height="14.9" fill="rgb(251,251,251)"/>
<rect x="313.3" y="160.6" width="1" height="14.9" fill="rgb(229,229,229)"/>
<rect x="314.3" y="160.6" width="1" height="14.9" fill="rgb(133,133,133)"/>
<rect x="315.3" y="160.6" width="1" height="14.9" fill="rgb(242,242,242)"/>
<rect x="316.3" y="160.6" width="1" height="14.9" fill="rgb(233,233,233)"/>
<rect x="317.3" y="160.6" width="1" height="14.9" fill="rgb(251,251,251)"/>
<rect x="318.3" y="160.6" width="1" height="14.9" fill="rgb(252,252,252)"/>
<rect x="319.3" y="160.6" width="1" height="14.9" fill="rgb(234,234,234)"/>
<rect x="320.3" y="160.6" width="1" height="14.9" fill="rgb(248,248,248)"/>
<rect x="321.3" y="160.6" width="1" height="14.9" fill="rgb(161,161,161)"/>
<rect x="322.3" y="160.6" width="1" height="14.9" fill="rgb(250,250,250)"/>
<rect x="323.3" y="160.6" width="1" height="14.9" fill="rgb(251,251,251)"/>
<rect x="324.3" y="160.6" width="1" height="14.9" fill="rgb(247,247,247)"/>
<rect x="325.3" y="160.6" width="1" height="14.9" fill="rgb(159,159,159)"/>
<rect x="326.3" y="160.6" width="1" height="14.9" fill="rgb(239,239,239)"/>
<rect x="327.3" y="160.6" width="1" height="14.9" fill="rgb(246,246,246)"/>
<rect x="328.3" y="160.6" width="1" height="14.9" fill="rgb(107,107,107)"/>
<rect x="329.3" y="160.6" width="1" height="14.9" fill="rgb(157,157,157)"/>
<rect x="330.3" y="160.6" width="1" height="14.9" fill="rgb(235,235,235)"/>
<rect x="331.3" y="160.6" width="1" height="14.9" fill="rgb(124,124,124)"/>
<rect x="332.3" y="160.6" width="1" height="14.9" fill="rgb(245,245,245)"/>
<rect x="333.3" y="160.6" width="1" height="14.9" fill="rgb(250,250,250)"/>
<rect x="334.3" y="160.6" width="1" height="14.9" fill="rgb(126,126,126)"/>
<rect x="335.3" y="160.6" width="1" height="14.9" fill="rgb(248,248,248)"/>
<rect x="336.3" y="160.6" width="1" height="14.9" fill="rgb(70,70,70)"/>
<rect x="337.3" y="160.6" width="1" height="14.9" fill="rgb(109,109,109)"/>
<rect x="338.3" y="160.6" width="1" height="14.9" fill="rgb(108,108,108)"/>
<rect x="339.3" y="160.6" width="1" height="14.9" fill="rgb(246,246,246)"/>
<rect x="340.3" y="160.6" width="1" height="14.9" fill="rgb(230,230,230)"/>
<rect x="341.3" y="160.6" width="1" height="14.9" fill="rgb(244,244,244)"/>
<rect x="342.3" y="160.6" width="1" height="14.9" fill="rgb(74,74,74)"/>
<rect x="343.3" y="160.6" width="1" height="14.9" fill="rgb(112,112,112)"/>
<rect x="344.3" y="160.6" width="1" height="14.9" fill="rgb(141,141,141)"/>
<rect x="345.3" y="160.6" width="1" height="14.9" fill="rgb(244,244,244)"/>
<rect x="346.3" y="160.6" width="1" height="14.9" fill="rgb(235,235,235)"/>
<rect x="347.3" y="160.6" width="1" height="14.9" fill="rgb(237,237,237)"/>
<rect x="348.3" y="160.6" width="1" height="14.9" fill="rgb(240,240,240)"/>
<rect x="349.3" y="160.6" width="1" height="14.9" fill="rgb(90,90,90)"/>
<rect x="350.3" y="160.6" width="1" height="14.9" fill="rgb(236,236,236)"/>
<rect x="351.3" y="160.6" width="1" height="14.9" fill="rgb(97,97,97)"/>
<rect x="352.3" y="160.6" width="1" height="14.9" fill="rgb(145,145,145)"/>
<rect x="353.3" y="160.6" width="1" height="14.9" fill="rgb(101,101,101)"/>
<rect x="354.3" y="160.6" width="1" height="14.9" fill="rgb(241,241,241)"/>
<rect x="355.3" y="160.6" width="1" height="14.9" fill="rgb(114,114,114)"/>
<rect x="356.3" y="160.6" width="1" height="14.9" fill="rgb(110,110,110)"/>
<rect x="357.3" y="160.6" width="1" height="14.9" fill="rgb(81,81,81)"/>
<rect x="358.3" y="160.6" width="1" height="14.9" fill="rgb(75,75,75)"/>
<rect x="359.3" y="160.6" width="1" height="14.9" fill="rgb(228,228,228)"/>
<rect x="360.3" y="160.6" width="1" height="14.9" fill="rgb(237,237,237)"/>
<rect x="361.3" y="160.6" width="1" height="14.9" fill="rgb(131,131,131)"/>
<rect x="362.3" y="160.6" width="1" height="14.9" fill="rgb(240,240,240)"/>
<rect x="363.3" y="160.6" width="1" height="14.9" fill="rgb(107,107,107)"/>
<rect x="364.3" y="160.6" width="1" height="14.9" fill="rgb(87,87,87)"/>
<rect x="365.3" y="160.6" width="1" height="14.9" fill="rgb(76,76,76)"/>
<rect x="366.3" y="160.6" width="1" height="14.9" fill="rgb(90,90,90)"/>
<rect x="367.3" y="160.6" width="1" height="14.9" fill="rgb(108,108,108)"/>
<rect x="368.3" y="160.6" width="1" height="14.9" fill="rgb(237,237,237)"/>
<rect x="369.3" y="160.6" width="1" height="14.9" fill="rgb(86,86,86)"/>
<rect x="370.3" y="160.6" width="1" height="14.9" fill="rgb(132,132,132)"/>
<rect x="371.3" y="160.6" width="1" height="14.9" fill="rgb(144,144,144)"/>
<rect x="372.3" y="160.6" width="1" height="14.9" fill="rgb(229,229,229)"/>
<rect x="373.3" y="160.6" width="1" height="14.9" fill="rgb(107,107,107)"/>
<rect x="374.3" y="160.6" width="0.6" height="14.9" fill="rgb(76,76,76)"/>
</g>
<rect x="276.3" y="175.7" width="98.6" height="3.8" fill="url(#cbar)" />
<text x="276.5" y="184.21" font-size="7" fill="#333" stroke="#333" stroke-width="0.25" font-family='"Liberation Serif", serif' >Δ/Δ</text>
<text x="377.9" y="184.21" font-size="7" text-anchor="end" fill="#333" stroke="#333" stroke-width="0.25" font-family='"Liberation Serif", serif' >Δ/Δ</text>
<text x="276.6" y="192.07" font-size="6.9" fill="#222" stroke="#222" stroke-width="0.25" textLength="46.5" lengthAdjust="spacingAndGlyphs" >pos. correlation</text>
<text x="378.3" y="192.07" font-size="6.9" text-anchor="end" fill="#222" stroke="#222" stroke-width="0.25" textLength="45.5" lengthAdjust="spacingAndGlyphs" >neg. correlation</text>
<path d="M275.4 129.7 C275.7 128.67 276.38 125.23 277.2 123.5 C278.02 121.77 279.27 120.52 280.3 119.3 C281.33 118.08 282.37 116.88 283.4 116.2 C284.43 115.52 284.93 115.13 286.5 115.2 C288.07 115.27 290.02 115.73 292.8 116.6 C295.58 117.47 299.75 118.8 303.2 120.4 C306.65 122 310.03 124.3 313.5 126.2 C316.97 128.1 320.53 129.65 324 131.8 C327.47 133.95 330.85 136.85 334.3 139.1 C337.75 141.35 341.25 143.4 344.7 145.3 C348.15 147.2 351.53 148.83 355 150.5 C358.47 152.17 362.72 154.08 365.5 155.3 C368.28 156.52 370.32 157.57 371.7 157.8 C373.08 158.03 373.12 158.27 373.8 156.7 C374.48 155.13 375.38 150.47 375.8 148.4 C376.22 146.33 376.22 144.98 376.3 144.3" fill="none" stroke="#000" stroke-width="1.8" stroke-linejoin="round"/>
<text x="376.9" y="121.38" font-size="7.8" text-anchor="end" fill="#222" stroke="#222" stroke-width="0.25" textLength="40.5" lengthAdjust="spacingAndGlyphs" >NES = 1.70</text>
<text x="347.4" y="130.38" font-size="7.8" font-style="italic" fill="#222" stroke="#222" stroke-width="0.25" >P</text>
<text x="376.9" y="130.38" font-size="7.8" text-anchor="end" fill="#222" stroke="#222" stroke-width="0.25" textLength="20.8" lengthAdjust="spacingAndGlyphs" >&lt; .001</text>
<text x="376.9" y="139.28" font-size="7.8" text-anchor="end" fill="#222" stroke="#222" stroke-width="0.25" textLength="44.7" lengthAdjust="spacingAndGlyphs" >FDR = 0.028</text>
<rect x="275.3" y="113.4" width="103.8" height="81.8" fill="none" stroke="#111" stroke-width="1.2" />
<text x="456.95" y="111.2" font-size="10" text-anchor="middle" stroke="#111" stroke-width="0.25" textLength="20.1" lengthAdjust="spacingAndGlyphs" >LSC</text>
<line x1="402.1" y1="115.8" x2="405.1" y2="115.8" stroke="#111" stroke-width="1" />
<text x="399.1" y="118.48" font-size="7.8" text-anchor="end" stroke="#111" stroke-width="0.25" textLength="11.5" lengthAdjust="spacingAndGlyphs" >0.5</text>
<line x1="402.1" y1="151.1" x2="405.1" y2="151.1" stroke="#111" stroke-width="1" />
<text x="399.1" y="153.78" font-size="7.8" text-anchor="end" stroke="#111" stroke-width="0.25" textLength="11.5" lengthAdjust="spacingAndGlyphs" >0.0</text>
<g filter="url(#bh)">
</g>
<rect x="406.1" y="176.2" width="99.7" height="3.4" fill="url(#cbar)" />
<text x="406.3" y="184.61" font-size="7" fill="#333" stroke="#333" stroke-width="0.25" font-family='"Liberation Serif", serif' >Δ/Δ</text>
<text x="507" y="184.61" font-size="7" text-anchor="end" fill="#333" stroke="#333" stroke-width="0.25" font-family='"Liberation Serif", serif' >Δ/Δ</text>
<text x="406.4" y="192.37" font-size="6.9" fill="#222" stroke="#222" stroke-width="0.25" textLength="46.5" lengthAdjust="spacingAndGlyphs" >pos. correlation</text>
<text x="507.4" y="192.37" font-size="6.9" text-anchor="end" fill="#222" stroke="#222" stroke-width="0.25" textLength="45.5" lengthAdjust="spacingAndGlyphs" >neg. correlation</text>
<path d="M405.2 143.2" fill="none" stroke="#000" stroke-width="1.8" stroke-linejoin="round"/>
<text x="503.8" y="121.38" font-size="7.8" text-anchor="end" fill="#222" stroke="#222" stroke-width="0.25" textLength="40.5" lengthAdjust="spacingAndGlyphs" >NES = 1.76</text>
<text x="474.3" y="130.38" font-size="7.8" font-style="italic" fill="#222" stroke="#222" stroke-width="0.25" >P</text>
<text x="503.8" y="130.38" font-size="7.8" text-anchor="end" fill="#222" stroke="#222" stroke-width="0.25" textLength="20.8" lengthAdjust="spacingAndGlyphs" >&lt; .001</text>
<text x="503.8" y="139.28" font-size="7.8" text-anchor="end" fill="#222" stroke="#222" stroke-width="0.25" textLength="44.7" lengthAdjust="spacingAndGlyphs" >FDR = 0.028</text>
<rect x="405.1" y="113.8" width="103.1" height="82" fill="none" stroke="#111" stroke-width="1.2" />
<rect x="408.5" y="160.2" width="0.8" height="15.8" fill="rgb(151,151,151)"/>
<rect x="410" y="160.2" width="0.8" height="15.8" fill="rgb(129,129,129)"/>
<rect x="411.5" y="160.2" width="0.8" height="15.8" fill="rgb(160,160,160)"/>
<rect x="413" y="160.2" width="0.8" height="15.8" fill="rgb(116,116,116)"/>
<rect x="415" y="160.2" width="0.8" height="15.8" fill="rgb(119,119,119)"/>
<rect x="417" y="160.2" width="0.8" height="15.8" fill="rgb(178,178,178)"/>
<rect x="433" y="160.2" width="0.8" height="15.8" fill="rgb(122,122,122)"/>
<rect x="434.5" y="160.2" width="0.8" height="15.8" fill="rgb(156,156,156)"/>
<rect x="436" y="160.2" width="0.8" height="15.8" fill="rgb(184,184,184)"/>
<rect x="437.5" y="160.2" width="0.8" height="15.8" fill="rgb(117,117,117)"/>
<rect x="447.5" y="160.2" width="0.8" height="15.8" fill="rgb(174,174,174)"/>
<rect x="449" y="160.2" width="0.8" height="15.8" fill="rgb(137,137,137)"/>
<rect x="455.5" y="160.2" width="0.8" height="15.8" fill="rgb(114,114,114)"/>
<rect x="457" y="160.2" width="0.8" height="15.8" fill="rgb(121,121,121)"/>
<rect x="459" y="160.2" width="0.8" height="15.8" fill="rgb(165,165,165)"/>
<rect x="460.5" y="160.2" width="0.8" height="15.8" fill="rgb(163,163,163)"/>
<rect x="462.5" y="160.2" width="0.8" height="15.8" fill="rgb(118,118,118)"/>
<rect x="464" y="160.2" width="0.8" height="15.8" fill="rgb(140,140,140)"/>
<rect x="469.5" y="160.2" width="0.8" height="15.8" fill="rgb(121,121,121)"/>
<rect x="471" y="160.2" width="0.8" height="15.8" fill="rgb(180,180,180)"/>
<rect x="472.5" y="160.2" width="0.8" height="15.8" fill="rgb(164,164,164)"/>
<rect x="474.5" y="160.2" width="0.8" height="15.8" fill="rgb(117,117,117)"/>
<rect x="476" y="160.2" width="0.8" height="15.8" fill="rgb(182,182,182)"/>
<rect x="477.5" y="160.2" width="0.8" height="15.8" fill="rgb(125,125,125)"/>
<rect x="486" y="160.2" width="0.8" height="15.8" fill="rgb(138,138,138)"/>
<rect x="489" y="160.2" width="0.8" height="15.8" fill="rgb(190,190,190)"/>
<rect x="503.5" y="160.2" width="0.8" height="15.8" fill="rgb(190,190,190)"/>
<path d="M405.2 143.2 L405.7 139 L407.2 138 L407.8 130.8 L409.3 129.7 L409.9 125.6 L411.3 126.6 L412.4 123.5 L414 124.1 L414.9 121.4 L416.5 119.3 L418.2 115.8 L419 115.2 L422.8 117.9 L433.2 124.5 L443.5 130.5 L454 137.5 L458 140.7 L462.2 141.2 L464.3 142.2 L468.5 141.2 L472.6 144.3 L474.7 144.9 L477.8 141.3 L480.9 143.6 L485 145.7 L489.2 148.4 L493.4 150.5 L499.6 154.7 L503.8 157.6 L504.8 151.5 L505.8 150.5" fill="none" stroke="#000" stroke-width="1.7" stroke-linejoin="round"/>
<text x="10.4" y="221.2" font-size="12" font-weight="bold" >C</text>
<line x1="49.2" y1="213.3" x2="49.2" y2="256.5" stroke="#111" stroke-width="1.1" />
<line x1="47.7" y1="252.38" x2="49.2" y2="252.38" stroke="#111" stroke-width="0.9" />
<line x1="46.7" y1="246.7" x2="49.2" y2="246.7" stroke="#111" stroke-width="0.9" />
<line x1="47.7" y1="241.02" x2="49.2" y2="241.02" stroke="#111" stroke-width="0.9" />
<line x1="47.7" y1="235.34" x2="49.2" y2="235.34" stroke="#111" stroke-width="0.9" />
<line x1="47.7" y1="229.66" x2="49.2" y2="229.66" stroke="#111" stroke-width="0.9" />
<line x1="47.7" y1="223.98" x2="49.2" y2="223.98" stroke="#111" stroke-width="0.9" />
<line x1="46.7" y1="218.3" x2="49.2" y2="218.3" stroke="#111" stroke-width="0.9" />
<text x="43.5" y="221.05" font-size="8" text-anchor="end" stroke="#111" stroke-width="0.25" textLength="9.5" lengthAdjust="spacingAndGlyphs" >25</text>
<text x="43.5" y="249.45" font-size="8" text-anchor="end" stroke="#111" stroke-width="0.25" textLength="9.5" lengthAdjust="spacingAndGlyphs" >20</text>
<line x1="49.2" y1="267" x2="49.2" y2="345.6" stroke="#111" stroke-width="1.1" />
<line x1="46.7" y1="345.2" x2="49.2" y2="345.2" stroke="#111" stroke-width="0.9" />
<line x1="47.7" y1="337.4" x2="49.2" y2="337.4" stroke="#111" stroke-width="0.9" />
<line x1="47.7" y1="329.6" x2="49.2" y2="329.6" stroke="#111" stroke-width="0.9" />
<line x1="47.7" y1="321.8" x2="49.2" y2="321.8" stroke="#111" stroke-width="0.9" />
<line x1="47.7" y1="314" x2="49.2" y2="314" stroke="#111" stroke-width="0.9" />
<line x1="46.7" y1="306.2" x2="49.2" y2="306.2" stroke="#111" stroke-width="0.9" />
<line x1="47.7" y1="298.4" x2="49.2" y2="298.4" stroke="#111" stroke-width="0.9" />
<line x1="47.7" y1="290.6" x2="49.2" y2="290.6" stroke="#111" stroke-width="0.9" />
<line x1="47.7" y1="282.8" x2="49.2" y2="282.8" stroke="#111" stroke-width="0.9" />
<line x1="47.7" y1="275" x2="49.2" y2="275" stroke="#111" stroke-width="0.9" />
<line x1="46.7" y1="267.2" x2="49.2" y2="267.2" stroke="#111" stroke-width="0.9" />
<text x="43.5" y="269.95" font-size="8" text-anchor="end" stroke="#111" stroke-width="0.25" textLength="9.5" lengthAdjust="spacingAndGlyphs" >10</text>
<text x="43.5" y="308.95" font-size="8" text-anchor="end" stroke="#111" stroke-width="0.25" >5</text>
<text x="43.5" y="347.95" font-size="8" text-anchor="end" stroke="#111" stroke-width="0.25" >0</text>
<text x="27.6" y="279.2" font-size="9" text-anchor="middle" stroke="#111" stroke-width="0.25" textLength="48.5" lengthAdjust="spacingAndGlyphs" transform="rotate(-90 27.6 279.2)" >Fold change</text>
<rect x="52.2" y="267.2" width="9.6" height="78" fill="#7a7a7a" />
<rect x="52.2" y="248" width="9.6" height="8.5" fill="#7a7a7a" />
<line x1="57" y1="248" x2="57" y2="224" stroke="#333" stroke-width="1.3" />
<line x1="54.5" y1="224" x2="59.5" y2="224" stroke="#222" stroke-width="1.4" />
<line x1="57" y1="345.6" x2="57" y2="348.5" stroke="#111" stroke-width="0.9" />
<text x="61.3" y="355" font-size="8.2" text-anchor="end" stroke="#111" stroke-width="0.25" transform="rotate(-45 61.3 355)" >Treml1</text>
<rect x="67.35" y="296.06" width="9.6" height="49.14" fill="#7a7a7a" />
<line x1="72.15" y1="296.06" x2="72.15" y2="273.44" stroke="#333" stroke-width="1.3" />
<line x1="69.65" y1="273.44" x2="74.65" y2="273.44" stroke="#222" stroke-width="1.4" />
<line x1="72.15" y1="345.6" x2="72.15" y2="348.5" stroke="#111" stroke-width="0.9" />
<text x="76.45" y="355" font-size="8.2" text-anchor="end" stroke="#111" stroke-width="0.25" transform="rotate(-45 76.45 355)" >Esam</text>
<rect x="82.5" y="302.3" width="9.6" height="42.9" fill="#7a7a7a" />
<line x1="87.3" y1="302.3" x2="87.3" y2="285.14" stroke="#333" stroke-width="1.3" />
<line x1="84.8" y1="285.14" x2="89.8" y2="285.14" stroke="#222" stroke-width="1.4" />
<line x1="87.3" y1="345.6" x2="87.3" y2="348.5" stroke="#111" stroke-width="0.9" />
<text x="91.6" y="355" font-size="8.2" text-anchor="end" stroke="#111" stroke-width="0.25" transform="rotate(-45 91.6 355)" >Gp5</text>
<rect x="97.65" y="306.2" width="9.6" height="39" fill="#7a7a7a" />
<line x1="102.45" y1="306.2" x2="102.45" y2="289.04" stroke="#333" stroke-width="1.3" />
<line x1="99.95" y1="289.04" x2="104.95" y2="289.04" stroke="#222" stroke-width="1.4" />
<line x1="102.45" y1="345.6" x2="102.45" y2="348.5" stroke="#111" stroke-width="0.9" />
<text x="106.75" y="355" font-size="8.2" text-anchor="end" stroke="#111" stroke-width="0.25" transform="rotate(-45 106.75 355)" >Selp</text>
<rect x="112.8" y="312.44" width="9.6" height="32.76" fill="#7a7a7a" />
<line x1="117.6" y1="312.44" x2="117.6" y2="300.74" stroke="#333" stroke-width="1.3" />
<line x1="115.1" y1="300.74" x2="120.1" y2="300.74" stroke="#222" stroke-width="1.4" />
<line x1="117.6" y1="345.6" x2="117.6" y2="348.5" stroke="#111" stroke-width="0.9" />
<text x="121.9" y="355" font-size="8.2" text-anchor="end" stroke="#111" stroke-width="0.25" transform="rotate(-45 121.9 355)" >Mpl</text>
<rect x="127.95" y="317.12" width="9.6" height="28.08" fill="#7a7a7a" />
<line x1="132.75" y1="317.12" x2="132.75" y2="303.08" stroke="#333" stroke-width="1.3" />
<line x1="130.25" y1="303.08" x2="135.25" y2="303.08" stroke="#222" stroke-width="1.4" />
<line x1="132.75" y1="345.6" x2="132.75" y2="348.5" stroke="#111" stroke-width="0.9" />
<text x="137.05" y="355" font-size="8.2" text-anchor="end" stroke="#111" stroke-width="0.25" transform="rotate(-45 137.05 355)" >Itga2b</text>
<rect x="143.1" y="328.43" width="9.6" height="16.77" fill="#7a7a7a" />
<line x1="147.9" y1="328.43" x2="147.9" y2="320.24" stroke="#333" stroke-width="1.3" />
<line x1="145.4" y1="320.24" x2="150.4" y2="320.24" stroke="#222" stroke-width="1.4" />
<line x1="147.9" y1="345.6" x2="147.9" y2="348.5" stroke="#111" stroke-width="0.9" />
<text x="152.2" y="355" font-size="8.2" text-anchor="end" stroke="#111" stroke-width="0.25" transform="rotate(-45 152.2 355)" >Tie1</text>
<rect x="158.25" y="337.4" width="9.6" height="7.8" fill="#7a7a7a" />
<line x1="163.05" y1="337.4" x2="163.05" y2="334.67" stroke="#333" stroke-width="1.3" />
<line x1="160.55" y1="334.67" x2="165.55" y2="334.67" stroke="#222" stroke-width="1.4" />
<line x1="163.05" y1="345.6" x2="163.05" y2="348.5" stroke="#111" stroke-width="0.9" />
<text x="167.35" y="355" font-size="8.2" text-anchor="end" stroke="#111" stroke-width="0.25" transform="rotate(-45 167.35 355)" >Vwf</text>
<line x1="48.7" y1="345.6" x2="168.5" y2="345.6" stroke="#111" stroke-width="1.2" />
<text x="189.6" y="220.8" font-size="12" font-weight="bold" >D</text>
<text x="221.2" y="222.5" font-size="9.3" font-style="italic" stroke="#111" stroke-width="0.25" textLength="25.5" lengthAdjust="spacingAndGlyphs" >Runx1</text>
<text x="247" y="218.9" font-size="5.2" fill="#333" stroke="#333" stroke-width="0.25" textLength="8.5" lengthAdjust="spacingAndGlyphs" >+/+</text>
<text x="257" y="222.5" font-size="9.3" font-style="italic" stroke="#111" stroke-width="0.25" textLength="12.7" lengthAdjust="spacingAndGlyphs" >vav</text>
<text x="269.7" y="222.5" font-size="9.3" stroke="#111" stroke-width="0.25" textLength="17.3" lengthAdjust="spacingAndGlyphs" >-cre</text>
<rect x="218.4" y="224.4" width="63" height="62.8" fill="none" stroke="#666" stroke-width="1" />
<g filter="url(#bl05)">
<path d="M231 243 C229.92 244.5 229.83 248.67 229.5 252 C229.17 255.33 228.83 259.5 229 263 C229.17 266.5 229.33 270.25 230.5 273 C231.67 275.75 233.42 278.2 236 279.5 C238.58 280.8 242.5 280.72 246 280.8 C249.5 280.88 253.67 280.55 257 280 C260.33 279.45 263.5 279 266 277.5 C268.5 276 270.8 273.75 272 271 C273.2 268.25 273.53 263.92 273.2 261 C272.87 258.08 271.87 255.33 270 253.5 C268.13 251.67 264.83 250.83 262 250 C259.17 249.17 256 249.08 253 248.5 C250 247.92 246.83 247.42 244 246.5 C241.17 245.58 238.17 243.58 236 243 C233.83 242.42 232.08 241.5 231 243 Z" fill="#c8c8c8" stroke="#6e6e6e" stroke-width="1.3" />
<path d="M231.65 244.05 C230.62 245.48 230.54 249.43 230.22 252.6 C229.91 255.77 229.59 259.73 229.75 263.05 C229.91 266.38 230.07 269.94 231.18 272.55 C232.28 275.16 233.95 277.49 236.4 278.73 C238.85 279.96 242.57 279.88 245.9 279.96 C249.23 280.04 253.18 279.72 256.35 279.2 C259.52 278.68 262.52 278.25 264.9 276.82 C267.27 275.4 269.46 273.26 270.6 270.65 C271.74 268.04 272.06 263.92 271.74 261.15 C271.42 258.38 270.47 255.77 268.7 254.03 C266.93 252.28 263.79 251.49 261.1 250.7 C258.41 249.91 255.4 249.83 252.55 249.28 C249.7 248.72 246.69 248.25 244 247.38 C241.31 246.5 238.46 244.6 236.4 244.05 C234.34 243.5 232.68 242.62 231.65 244.05 Z" fill="#bcbcbc" stroke="#8a8a8a" stroke-width="0.7" />
<path d="M232.43 245.31 C231.47 246.65 231.39 250.35 231.09 253.32 C230.8 256.29 230.5 260 230.65 263.11 C230.8 266.23 230.95 269.56 231.99 272.01 C233.02 274.46 234.58 276.64 236.88 277.8 C239.18 278.95 242.66 278.88 245.78 278.95 C248.9 279.03 252.6 278.73 255.57 278.24 C258.54 277.75 261.35 277.35 263.58 276.01 C265.81 274.68 267.85 272.68 268.92 270.23 C269.99 267.78 270.28 263.93 269.99 261.33 C269.69 258.73 268.8 256.29 267.14 254.66 C265.48 253.02 262.54 252.28 260.02 251.54 C257.5 250.8 254.68 250.72 252.01 250.21 C249.34 249.69 246.52 249.24 244 248.43 C241.48 247.61 238.81 245.83 236.88 245.31 C234.95 244.79 233.39 243.97 232.43 245.31 Z" fill="#c4c4c4" stroke="#999" stroke-width="0.6" />
<path d="M233.21 246.57 C232.31 247.81 232.24 251.27 231.97 254.04 C231.69 256.81 231.41 260.26 231.55 263.17 C231.69 266.08 231.83 269.19 232.79 271.47 C233.76 273.75 235.22 275.79 237.36 276.87 C239.5 277.94 242.75 277.87 245.66 277.94 C248.56 278.01 252.02 277.74 254.79 277.28 C257.56 276.82 260.19 276.45 262.26 275.2 C264.33 273.96 266.24 272.09 267.24 269.81 C268.24 267.53 268.51 263.93 268.24 261.51 C267.96 259.09 267.13 256.81 265.58 255.28 C264.03 253.76 261.29 253.07 258.94 252.38 C256.59 251.69 253.96 251.62 251.47 251.13 C248.98 250.65 246.35 250.24 244 249.47 C241.65 248.71 239.16 247.05 237.36 246.57 C235.56 246.09 234.11 245.32 233.21 246.57 Z" fill="#cccccc" stroke="#a4a4a4" stroke-width="0.6" />
<path d="M252 254 C254 252.92 259 252.17 262 252.5 C265 252.83 268.42 253.92 270 256 C271.58 258.08 271.67 262.17 271.5 265 C271.33 267.83 270.58 271 269 273 C267.42 275 264.5 276.42 262 277 C259.5 277.58 256 278 254 276.5 C252 275 250.67 270.92 250 268 C249.33 265.08 249.67 261.33 250 259 C250.33 256.67 250 255.08 252 254 Z" fill="#e9e9e9" stroke="#b8b8b8" stroke-width="0.6" />
<path d="M254.25 256.75 C255.75 255.94 259.5 255.38 261.75 255.62 C264 255.88 266.56 256.69 267.75 258.25 C268.94 259.81 269 262.88 268.88 265 C268.75 267.12 268.19 269.5 267 271 C265.81 272.5 263.62 273.56 261.75 274 C259.88 274.44 257.25 274.75 255.75 273.62 C254.25 272.5 253.25 269.44 252.75 267.25 C252.25 265.06 252.5 262.25 252.75 260.5 C253 258.75 252.75 257.56 254.25 256.75 Z" fill="#efefef" stroke="#c4c4c4" stroke-width="0.5" />
<path d="M256.5 259.5 C257.5 258.96 260 258.58 261.5 258.75 C263 258.92 264.71 259.46 265.5 260.5 C266.29 261.54 266.33 263.58 266.25 265 C266.17 266.42 265.79 268 265 269 C264.21 270 262.75 270.71 261.5 271 C260.25 271.29 258.5 271.5 257.5 270.75 C256.5 270 255.83 267.96 255.5 266.5 C255.17 265.04 255.33 263.17 255.5 262 C255.67 260.83 255.5 260.04 256.5 259.5 Z" fill="#f2f2f2" stroke="#c8c8c8" stroke-width="0.5" />
<path d="M258.75 262.25 C259.25 261.98 260.5 261.79 261.25 261.88 C262 261.96 262.85 262.23 263.25 262.75 C263.65 263.27 263.67 264.29 263.62 265 C263.58 265.71 263.4 266.5 263 267 C262.6 267.5 261.88 267.85 261.25 268 C260.62 268.15 259.75 268.25 259.25 267.88 C258.75 267.5 258.42 266.48 258.25 265.75 C258.08 265.02 258.17 264.08 258.25 263.5 C258.33 262.92 258.25 262.52 258.75 262.25 Z" fill="#f4f4f4" stroke="#ccc" stroke-width="0.4" />
<path d="M235 256 C236.25 254.25 238.83 253.5 241 253.5 C243.17 253.5 246.5 254.25 248 256 C249.5 257.75 250 261.17 250 264 C250 266.83 249.5 271 248 273 C246.5 275 243.17 276.17 241 276 C238.83 275.83 236.25 274 235 272 C233.75 270 233.5 266.67 233.5 264 C233.5 261.33 233.75 257.75 235 256 Z" fill="#bdbdbd" stroke="#a0a0a0" stroke-width="0.6" />
<path d="M236.62 258.12 C237.56 256.81 239.5 256.25 241.12 256.25 C242.75 256.25 245.25 256.81 246.38 258.12 C247.5 259.44 247.88 262 247.88 264.12 C247.88 266.25 247.5 269.38 246.38 270.88 C245.25 272.38 242.75 273.25 241.12 273.12 C239.5 273 237.56 271.62 236.62 270.12 C235.69 268.62 235.5 266.12 235.5 264.12 C235.5 262.12 235.69 259.44 236.62 258.12 Z" fill="#d4d4d4" stroke="#b0b0b0" stroke-width="0.5" />
<path d="M238.25 260.25 C238.88 259.38 240.17 259 241.25 259 C242.33 259 244 259.38 244.75 260.25 C245.5 261.12 245.75 262.83 245.75 264.25 C245.75 265.67 245.5 267.75 244.75 268.75 C244 269.75 242.33 270.33 241.25 270.25 C240.17 270.17 238.88 269.25 238.25 268.25 C237.62 267.25 237.5 265.58 237.5 264.25 C237.5 262.92 237.62 261.12 238.25 260.25 Z" fill="#e6e6e6" stroke="#c0c0c0" stroke-width="0.5" />
<path d="M239.88 262.38 C240.19 261.94 240.83 261.75 241.38 261.75 C241.92 261.75 242.75 261.94 243.12 262.38 C243.5 262.81 243.62 263.67 243.62 264.38 C243.62 265.08 243.5 266.12 243.12 266.62 C242.75 267.12 241.92 267.42 241.38 267.38 C240.83 267.33 240.19 266.88 239.88 266.38 C239.56 265.88 239.5 265.04 239.5 264.38 C239.5 263.71 239.56 262.81 239.88 262.38 Z" fill="#f2f2f2" stroke="#ccc" stroke-width="0.4" />
<path d="M230.5 239 C232 243 238 246 248 246.5 L250 249 C242 249 234 247 230 244 Z" fill="#a8a8a8" stroke="none" stroke-width="0" />
<path d="M249 234 C250.17 232.58 253.5 232.67 256 232.5 C258.5 232.33 261.67 232.42 264 233 C266.33 233.58 268.83 234.83 270 236 C271.17 237.17 271.83 238.92 271 240 C270.17 241.08 267.5 242.08 265 242.5 C262.5 242.92 258.67 242.75 256 242.5 C253.33 242.25 250.17 242.42 249 241 C247.83 239.58 247.83 235.42 249 234 Z" fill="#ececec" stroke="#c0c0c0" stroke-width="0.6" />
<path d="M252 235.2 C252.82 234.21 255.15 234.27 256.9 234.15 C258.65 234.03 260.87 234.09 262.5 234.5 C264.13 234.91 265.88 235.78 266.7 236.6 C267.52 237.42 267.98 238.64 267.4 239.4 C266.82 240.16 264.95 240.86 263.2 241.15 C261.45 241.44 258.77 241.33 256.9 241.15 C255.03 240.97 252.82 241.09 252 240.1 C251.18 239.11 251.18 236.19 252 235.2 Z" fill="#e6e6e6" stroke="#bcbcbc" stroke-width="0.5" />
<path d="M255 236.4 C255.47 235.83 256.8 235.87 257.8 235.8 C258.8 235.73 260.07 235.77 261 236 C261.93 236.23 262.93 236.73 263.4 237.2 C263.87 237.67 264.13 238.37 263.8 238.8 C263.47 239.23 262.4 239.63 261.4 239.8 C260.4 239.97 258.87 239.9 257.8 239.8 C256.73 239.7 255.47 239.77 255 239.2 C254.53 238.63 254.53 236.97 255 236.4 Z" fill="#f0f0f0" stroke="#c8c8c8" stroke-width="0.5" />
<path d="M250.4 237.4 C250.4 238.33 249.87 239.39 249.01 240.2 C248.14 241.01 246.7 241.78 245.2 242.25 C243.7 242.72 241.73 243 240 243 C238.27 243 236.3 242.72 234.8 242.25 C233.3 241.78 231.86 241.01 230.99 240.2 C230.13 239.39 229.6 238.33 229.6 237.4 C229.6 236.47 230.13 235.41 230.99 234.6 C231.86 233.79 233.3 233.02 234.8 232.55 C236.3 232.08 238.27 231.8 240 231.8 C241.73 231.8 243.7 232.08 245.2 232.55 C246.7 233.02 248.14 233.79 249.01 234.6 C249.87 235.41 250.4 236.47 250.4 237.4 Z" fill="#7a7a7a" stroke="#2a2a2a" stroke-width="1.6" />
<path d="M249.15 237.4 C249.15 238.22 248.69 239.15 247.93 239.86 C247.16 240.58 245.9 241.26 244.58 241.67 C243.26 242.08 241.53 242.33 240 242.33 C238.47 242.33 236.74 242.08 235.42 241.67 C234.1 241.26 232.84 240.58 232.07 239.86 C231.31 239.15 230.85 238.22 230.85 237.4 C230.85 236.58 231.31 235.65 232.07 234.94 C232.84 234.22 234.1 233.54 235.42 233.13 C236.74 232.72 238.47 232.47 240 232.47 C241.53 232.47 243.26 232.72 244.58 233.13 C245.9 233.54 247.16 234.22 247.93 234.94 C248.69 235.65 249.15 236.58 249.15 237.4 Z" fill="#9a9a9a" stroke="#555" stroke-width="0.6" />
<path d="M247.9 237.4 C247.9 238.11 247.5 238.91 246.85 239.53 C246.19 240.14 245.09 240.73 243.95 241.09 C242.81 241.44 241.32 241.66 240 241.66 C238.68 241.66 237.19 241.44 236.05 241.09 C234.91 240.73 233.81 240.14 233.15 239.53 C232.5 238.91 232.1 238.11 232.1 237.4 C232.1 236.69 232.5 235.89 233.15 235.27 C233.81 234.66 234.91 234.07 236.05 233.71 C237.19 233.36 238.68 233.14 240 233.14 C241.32 233.14 242.81 233.36 243.95 233.71 C245.09 234.07 246.19 234.66 246.85 235.27 C247.5 235.89 247.9 236.69 247.9 237.4 Z" fill="#c4c4c4" stroke="#888" stroke-width="0.5" />
<path d="M246.45 237.4 C246.45 237.84 246.12 238.34 245.58 238.72 C245.05 239.1 244.15 239.46 243.22 239.68 C242.29 239.9 241.07 240.03 240 240.03 C238.93 240.03 237.71 239.9 236.78 239.68 C235.85 239.46 234.95 239.1 234.42 238.72 C233.88 238.34 233.55 237.84 233.55 237.4 C233.55 236.96 233.88 236.46 234.42 236.08 C234.95 235.7 235.85 235.34 236.78 235.12 C237.71 234.9 238.93 234.77 240 234.77 C241.07 234.77 242.29 234.9 243.22 235.12 C244.15 235.34 245.05 235.7 245.58 236.08 C246.12 236.46 246.45 236.96 246.45 237.4 Z" fill="#ffffff" stroke="#999" stroke-width="0.5" />
</g>
<rect x="252" y="231.2" width="23.5" height="13.3" fill="none" stroke="#111" stroke-width="1.3" />
<text x="263.4" y="253.6" font-size="9" text-anchor="middle" stroke="#111" stroke-width="0.25" textLength="17.6" lengthAdjust="spacingAndGlyphs" >LSK</text>
<line x1="275.5" y1="237.7" x2="295.5" y2="237.7" stroke="#111" stroke-width="1.1" />
<path d="M298.4 237.7 L294.2 235.6 L294.2 239.8 Z" fill="#111" stroke="none" stroke-width="0" />
<rect x="298.4" y="224.4" width="62.8" height="62.8" fill="none" stroke="#666" stroke-width="1" />
<g filter="url(#bl05)">
<path d="M313 246 C313.92 243.67 315.33 242 317 241 C318.67 240 321 239.92 323 240 C325 240.08 327.25 240.92 329 241.5 C330.75 242.08 332.83 241.75 333.5 243.5 C334.17 245.25 333.42 248.92 333 252 C332.58 255.08 331.58 258.67 331 262 C330.42 265.33 330.33 269.17 329.5 272 C328.67 274.83 327.92 277.58 326 279 C324.08 280.42 320.33 281 318 280.5 C315.67 280 313.25 278.42 312 276 C310.75 273.58 310.58 269.5 310.5 266 C310.42 262.5 311.08 258.33 311.5 255 C311.92 251.67 312.08 248.33 313 246 Z" fill="#f7f7f7" stroke="#c6c6c6" stroke-width="0.6" />
<path d="M313.84 247.92 C314.65 245.87 315.89 244.4 317.36 243.52 C318.83 242.64 320.88 242.57 322.64 242.64 C324.4 242.71 326.38 243.45 327.92 243.96 C329.46 244.47 331.29 244.18 331.88 245.72 C332.47 247.26 331.81 250.49 331.44 253.2 C331.07 255.91 330.19 259.07 329.68 262 C329.17 264.93 329.09 268.31 328.36 270.8 C327.63 273.29 326.97 275.71 325.28 276.96 C323.59 278.21 320.29 278.72 318.24 278.28 C316.19 277.84 314.06 276.45 312.96 274.32 C311.86 272.19 311.71 268.6 311.64 265.52 C311.57 262.44 312.15 258.77 312.52 255.84 C312.89 252.91 313.03 249.97 313.84 247.92 Z" fill="#f4f4f4" stroke="#c4c4c4" stroke-width="0.5" />
<path d="M314.68 249.84 C315.38 248.07 316.45 246.8 317.72 246.04 C318.99 245.28 320.76 245.22 322.28 245.28 C323.8 245.34 325.51 245.98 326.84 246.42 C328.17 246.86 329.75 246.61 330.26 247.94 C330.77 249.27 330.2 252.06 329.88 254.4 C329.56 256.74 328.8 259.47 328.36 262 C327.92 264.53 327.85 267.45 327.22 269.6 C326.59 271.75 326.02 273.84 324.56 274.92 C323.1 276 320.25 276.44 318.48 276.06 C316.71 275.68 314.87 274.48 313.92 272.64 C312.97 270.8 312.84 267.7 312.78 265.04 C312.72 262.38 313.22 259.21 313.54 256.68 C313.86 254.15 313.98 251.61 314.68 249.84 Z" fill="#eeeeee" stroke="#c0c0c0" stroke-width="0.5" />
<path d="M312.5 254 C313.42 251.5 315.25 251.33 317 251 C318.75 250.67 321.5 250.83 323 252 C324.5 253.17 325.5 255.33 326 258 C326.5 260.67 326.33 265 326 268 C325.67 271 325.33 274.17 324 276 C322.67 277.83 319.83 279 318 279 C316.17 279 314.08 278.17 313 276 C311.92 273.83 311.58 269.67 311.5 266 C311.42 262.33 311.58 256.5 312.5 254 Z" fill="#d4d4d4" stroke="#b4b4b4" stroke-width="0.6" />
<path d="M313.4 255.72 C314.18 253.6 315.74 253.46 317.23 253.18 C318.71 252.89 321.05 253.03 322.32 254.03 C323.6 255.02 324.45 256.86 324.88 259.12 C325.3 261.39 325.16 265.07 324.88 267.62 C324.59 270.18 324.31 272.87 323.18 274.43 C322.04 275.98 319.63 276.98 318.07 276.98 C316.52 276.98 314.75 276.27 313.82 274.43 C312.9 272.58 312.62 269.04 312.55 265.93 C312.48 262.81 312.62 257.85 313.4 255.72 Z" fill="#bcbcbc" stroke="#a4a4a4" stroke-width="0.5" />
<path d="M314.3 257.45 C314.94 255.7 316.23 255.58 317.45 255.35 C318.67 255.12 320.6 255.23 321.65 256.05 C322.7 256.87 323.4 258.38 323.75 260.25 C324.1 262.12 323.98 265.15 323.75 267.25 C323.52 269.35 323.28 271.57 322.35 272.85 C321.42 274.13 319.43 274.95 318.15 274.95 C316.87 274.95 315.41 274.37 314.65 272.85 C313.89 271.33 313.66 268.42 313.6 265.85 C313.54 263.28 313.66 259.2 314.3 257.45 Z" fill="#a2a2a2" stroke="#8e8e8e" stroke-width="0.5" />
<path d="M315.5 256.3 C315.96 254.3 316.88 254.17 317.75 253.9 C318.62 253.63 320 253.77 320.75 254.7 C321.5 255.63 322 257.37 322.25 259.5 C322.5 261.63 322.42 265.1 322.25 267.5 C322.08 269.9 321.92 272.43 321.25 273.9 C320.58 275.37 319.17 276.3 318.25 276.3 C317.33 276.3 316.29 275.63 315.75 273.9 C315.21 272.17 315.04 268.83 315 265.9 C314.96 262.97 315.04 258.3 315.5 256.3 Z" fill="#888" stroke="#7a7a7a" stroke-width="0.4" />
<ellipse cx="320" cy="267" rx="0.8" ry="5" fill="#e2e2e2"/>
</g>
<line x1="334.3" y1="224.4" x2="334.3" y2="287.2" stroke="#666" stroke-width="1" />
<line x1="298.4" y1="255.2" x2="361.2" y2="255.2" stroke="#666" stroke-width="1" />
<text x="301" y="235" font-size="9.5" stroke="#111" stroke-width="0.25" textLength="18.3" lengthAdjust="spacingAndGlyphs" >14%</text>
<text x="359.2" y="235" font-size="9.5" text-anchor="end" stroke="#111" stroke-width="0.25" textLength="13.3" lengthAdjust="spacingAndGlyphs" >2%</text>
<text x="301.3" y="284.4" font-size="9.5" stroke="#111" stroke-width="0.25" textLength="19.3" lengthAdjust="spacingAndGlyphs" >84%</text>
<text x="358.7" y="284.4" font-size="9.5" text-anchor="end" stroke="#111" stroke-width="0.25" textLength="13.2" lengthAdjust="spacingAndGlyphs" >0%</text>
<text x="219.7" y="301.2" font-size="9.3" font-style="italic" stroke="#111" stroke-width="0.25" textLength="26" lengthAdjust="spacingAndGlyphs" >Runx1</text>
<text x="246" y="297" font-size="5.8" fill="#444" stroke="#444" stroke-width="0.25" font-family='"Liberation Serif", serif' textLength="8.9" lengthAdjust="spacingAndGlyphs" >Δ/Δ</text>
<text x="256" y="301.2" font-size="9.3" font-style="italic" stroke="#111" stroke-width="0.25" textLength="13" lengthAdjust="spacingAndGlyphs" >vav</text>
<text x="269" y="301.2" font-size="9.3" stroke="#111" stroke-width="0.25" textLength="16.5" lengthAdjust="spacingAndGlyphs" >-cre</text>
<rect x="219.4" y="302.3" width="63" height="62.2" fill="none" stroke="#666" stroke-width="1" />
<g filter="url(#bl05)">
<path d="M232 330 C233.58 327.83 237 327.33 240 327 C243 326.67 247 327.42 250 328 C253 328.58 255.33 330.33 258 330.5 C260.67 330.67 263.5 328.92 266 329 C268.5 329.08 271.08 329.5 273 331 C274.92 332.5 276.75 335.33 277.5 338 C278.25 340.67 278.08 344.42 277.5 347 C276.92 349.58 275.75 352.33 274 353.5 C272.25 354.67 269.67 354.33 267 354 C264.33 353.67 261 351.58 258 351.5 C255 351.42 252 353.25 249 353.5 C246 353.75 242.67 353.75 240 353 C237.33 352.25 234.58 351.17 233 349 C231.42 346.83 230.67 343.17 230.5 340 C230.33 336.83 230.42 332.17 232 330 Z" fill="#d0d0d0" stroke="#6e6e6e" stroke-width="1.3" />
<path d="M233.26 330.66 C234.75 328.62 237.96 328.15 240.78 327.84 C243.6 327.53 247.36 328.23 250.18 328.78 C253 329.33 255.19 330.97 257.7 331.13 C260.21 331.29 262.87 329.64 265.22 329.72 C267.57 329.8 270 330.19 271.8 331.6 C273.6 333.01 275.32 335.67 276.03 338.18 C276.73 340.69 276.58 344.21 276.03 346.64 C275.48 349.07 274.38 351.65 272.74 352.75 C271.1 353.85 268.67 353.53 266.16 353.22 C263.65 352.91 260.52 350.95 257.7 350.87 C254.88 350.79 252.06 352.51 249.24 352.75 C246.42 352.99 243.29 352.98 240.78 352.28 C238.27 351.57 235.69 350.56 234.2 348.52 C232.71 346.48 232.01 343.04 231.85 340.06 C231.69 337.08 231.77 332.7 233.26 330.66 Z" fill="#c6c6c6" stroke="#8c8c8c" stroke-width="0.6" />
<path d="M234.52 331.32 C235.91 329.41 238.92 328.97 241.56 328.68 C244.2 328.39 247.72 329.05 250.36 329.56 C253 330.07 255.05 331.61 257.4 331.76 C259.75 331.91 262.24 330.37 264.44 330.44 C266.64 330.51 268.91 330.88 270.6 332.2 C272.29 333.52 273.9 336.01 274.56 338.36 C275.22 340.71 275.07 344.01 274.56 346.28 C274.05 348.55 273.02 350.97 271.48 352 C269.94 353.03 267.67 352.73 265.32 352.44 C262.97 352.15 260.04 350.31 257.4 350.24 C254.76 350.17 252.12 351.78 249.48 352 C246.84 352.22 243.91 352.22 241.56 351.56 C239.21 350.9 236.79 349.95 235.4 348.04 C234.01 346.13 233.35 342.91 233.2 340.12 C233.05 337.33 233.13 333.23 234.52 331.32 Z" fill="#cecece" stroke="#9c9c9c" stroke-width="0.5" />
<path d="M235.78 331.98 C237.08 330.2 239.88 329.79 242.34 329.52 C244.8 329.25 248.08 329.86 250.54 330.34 C253 330.82 254.91 332.25 257.1 332.39 C259.29 332.53 261.61 331.09 263.66 331.16 C265.71 331.23 267.83 331.57 269.4 332.8 C270.97 334.03 272.47 336.35 273.09 338.54 C273.7 340.73 273.57 343.8 273.09 345.92 C272.61 348.04 271.66 350.29 270.22 351.25 C268.79 352.21 266.67 351.93 264.48 351.66 C262.29 351.39 259.56 349.68 257.1 349.61 C254.64 349.54 252.18 351.05 249.72 351.25 C247.26 351.45 244.53 351.45 242.34 350.84 C240.15 350.22 237.9 349.34 236.6 347.56 C235.3 345.78 234.69 342.78 234.55 340.18 C234.41 337.58 234.48 333.76 235.78 331.98 Z" fill="#d8d8d8" stroke="#aaa" stroke-width="0.5" />
<path d="M236 337 C237.33 335.42 240.5 333.83 243 333.5 C245.5 333.17 248.83 333.92 251 335 C253.17 336.08 255.5 338 256 340 C256.5 342 255.67 345.33 254 347 C252.33 348.67 248.67 349.83 246 350 C243.33 350.17 239.83 349.17 238 348 C236.17 346.83 235.33 344.83 235 343 C234.67 341.17 234.67 338.58 236 337 Z" fill="#e2e2e2" stroke="#b0b0b0" stroke-width="0.5" />
<path d="M238.7 338.35 C239.63 337.24 241.85 336.13 243.6 335.9 C245.35 335.67 247.68 336.19 249.2 336.95 C250.72 337.71 252.35 339.05 252.7 340.45 C253.05 341.85 252.47 344.18 251.3 345.35 C250.13 346.52 247.57 347.33 245.7 347.45 C243.83 347.57 241.38 346.87 240.1 346.05 C238.82 345.23 238.23 343.83 238 342.55 C237.77 341.27 237.77 339.46 238.7 338.35 Z" fill="#ececec" stroke="#bcbcbc" stroke-width="0.5" />
<path d="M241.4 339.7 C241.93 339.07 243.2 338.43 244.2 338.3 C245.2 338.17 246.53 338.47 247.4 338.9 C248.27 339.33 249.2 340.1 249.4 340.9 C249.6 341.7 249.27 343.03 248.6 343.7 C247.93 344.37 246.47 344.83 245.4 344.9 C244.33 344.97 242.93 344.57 242.2 344.1 C241.47 343.63 241.13 342.83 241 342.1 C240.87 341.37 240.87 340.33 241.4 339.7 Z" fill="#f6f6f6" stroke="#c8c8c8" stroke-width="0.4" />
<path d="M263 335 C264.17 333.83 267.17 333.33 269 334 C270.83 334.67 273.08 336.83 274 339 C274.92 341.17 275.17 345 274.5 347 C273.83 349 271.58 350.83 270 351 C268.42 351.17 266.33 349.67 265 348 C263.67 346.33 262.33 343.17 262 341 C261.67 338.83 261.83 336.17 263 335 Z" fill="#e4e4e4" stroke="#b4b4b4" stroke-width="0.5" />
<path d="M264.75 337.45 C265.51 336.69 267.46 336.37 268.65 336.8 C269.84 337.23 271.3 338.64 271.9 340.05 C272.5 341.46 272.66 343.95 272.23 345.25 C271.79 346.55 270.33 347.74 269.3 347.85 C268.27 347.96 266.92 346.98 266.05 345.9 C265.18 344.82 264.32 342.76 264.1 341.35 C263.88 339.94 263.99 338.21 264.75 337.45 Z" fill="#eeeeee" stroke="#c0c0c0" stroke-width="0.4" />
<path d="M231 315 C231.42 313.25 232.17 310.67 234 309.5 C235.83 308.33 239.33 308 242 308 C244.67 308 247.67 309.08 250 309.5 C252.33 309.92 253.67 310.5 256 310.5 C258.33 310.5 261.58 309.33 264 309.5 C266.42 309.67 269.17 310.42 270.5 311.5 C271.83 312.58 272.08 314.42 272 316 C271.92 317.58 271.67 319.92 270 321 C268.33 322.08 264.67 322.42 262 322.5 C259.33 322.58 256.67 321.42 254 321.5 C251.33 321.58 248.83 322.78 246 323 C243.17 323.22 239.42 323.3 237 322.8 C234.58 322.3 232.5 321.3 231.5 320 C230.5 318.7 230.58 316.75 231 315 Z" fill="#9a9a9a" stroke="#2a2a2a" stroke-width="1.7" />
<path d="M232 315.16 C232.4 313.69 233.11 311.52 234.85 310.54 C236.59 309.56 239.92 309.28 242.45 309.28 C244.98 309.28 247.83 310.19 250.05 310.54 C252.27 310.89 253.53 311.38 255.75 311.38 C257.97 311.38 261.05 310.4 263.35 310.54 C265.65 310.68 268.26 311.31 269.52 312.22 C270.79 313.13 271.03 314.67 270.95 316 C270.87 317.33 270.63 319.29 269.05 320.2 C267.47 321.11 263.98 321.39 261.45 321.46 C258.92 321.53 256.38 320.55 253.85 320.62 C251.32 320.69 248.94 321.7 246.25 321.88 C243.56 322.06 240 322.13 237.7 321.71 C235.4 321.29 233.42 320.45 232.47 319.36 C231.53 318.27 231.6 316.63 232 315.16 Z" fill="#b0b0b0" stroke="#666" stroke-width="0.5" />
<path d="M233 315.32 C233.38 314.13 234.05 312.37 235.7 311.58 C237.35 310.79 240.5 310.56 242.9 310.56 C245.3 310.56 248 311.3 250.1 311.58 C252.2 311.86 253.4 312.26 255.5 312.26 C257.6 312.26 260.52 311.47 262.7 311.58 C264.88 311.69 267.35 312.2 268.55 312.94 C269.75 313.68 269.97 314.92 269.9 316 C269.82 317.08 269.6 318.66 268.1 319.4 C266.6 320.14 263.3 320.36 260.9 320.42 C258.5 320.48 256.1 319.68 253.7 319.74 C251.3 319.8 249.05 320.61 246.5 320.76 C243.95 320.91 240.58 320.96 238.4 320.62 C236.22 320.28 234.35 319.6 233.45 318.72 C232.55 317.84 232.62 316.51 233 315.32 Z" fill="#c6c6c6" stroke="#999" stroke-width="0.5" />
<path d="M248 315.5 C248 316.1 247.65 316.78 247.06 317.3 C246.48 317.82 245.51 318.32 244.5 318.62 C243.49 318.92 242.17 319.1 241 319.1 C239.83 319.1 238.51 318.92 237.5 318.62 C236.49 318.32 235.52 317.82 234.94 317.3 C234.35 316.78 234 316.1 234 315.5 C234 314.9 234.35 314.22 234.94 313.7 C235.52 313.18 236.49 312.68 237.5 312.38 C238.51 312.08 239.83 311.9 241 311.9 C242.17 311.9 243.49 312.08 244.5 312.38 C245.51 312.68 246.48 313.18 247.06 313.7 C247.65 314.22 248 314.9 248 315.5 Z" fill="#d8d8d8" stroke="#aaa" stroke-width="0.5" />
<path d="M245.2 315.5 C245.2 315.86 244.99 316.27 244.64 316.58 C244.29 316.89 243.71 317.19 243.1 317.37 C242.49 317.55 241.7 317.66 241 317.66 C240.3 317.66 239.51 317.55 238.9 317.37 C238.29 317.19 237.71 316.89 237.36 316.58 C237.01 316.27 236.8 315.86 236.8 315.5 C236.8 315.14 237.01 314.73 237.36 314.42 C237.71 314.11 238.29 313.81 238.9 313.63 C239.51 313.45 240.3 313.34 241 313.34 C241.7 313.34 242.49 313.45 243.1 313.63 C243.71 313.81 244.29 314.11 244.64 314.42 C244.99 314.73 245.2 315.14 245.2 315.5 Z" fill="#eeeeee" stroke="#bbb" stroke-width="0.4" />
<path d="M269.5 316 C269.5 316.53 269.17 317.14 268.63 317.6 C268.09 318.06 267.19 318.5 266.25 318.77 C265.31 319.04 264.08 319.2 263 319.2 C261.92 319.2 260.69 319.04 259.75 318.77 C258.81 318.5 257.91 318.06 257.37 317.6 C256.83 317.14 256.5 316.53 256.5 316 C256.5 315.47 256.83 314.86 257.37 314.4 C257.91 313.94 258.81 313.5 259.75 313.23 C260.69 312.96 261.92 312.8 263 312.8 C264.08 312.8 265.31 312.96 266.25 313.23 C267.19 313.5 268.09 313.94 268.63 314.4 C269.17 314.86 269.5 315.47 269.5 316 Z" fill="#a8a8a8" stroke="#888" stroke-width="0.5" />
<path d="M266.9 316 C266.9 316.32 266.7 316.68 266.38 316.96 C266.05 317.24 265.51 317.5 264.95 317.66 C264.39 317.82 263.65 317.92 263 317.92 C262.35 317.92 261.61 317.82 261.05 317.66 C260.49 317.5 259.95 317.24 259.62 316.96 C259.3 316.68 259.1 316.32 259.1 316 C259.1 315.68 259.3 315.32 259.62 315.04 C259.95 314.76 260.49 314.5 261.05 314.34 C261.61 314.18 262.35 314.08 263 314.08 C263.65 314.08 264.39 314.18 264.95 314.34 C265.51 314.5 266.05 314.76 266.38 315.04 C266.7 315.32 266.9 315.68 266.9 316 Z" fill="#c4c4c4" stroke="#999" stroke-width="0.4" />
</g>
<rect x="253.6" y="309.5" width="23.8" height="13.3" fill="none" stroke="#111" stroke-width="1.3" />
<text x="264.4" y="331.4" font-size="9" text-anchor="middle" stroke="#111" stroke-width="0.25" textLength="17.6" lengthAdjust="spacingAndGlyphs" >LSK</text>
<line x1="277.4" y1="309.4" x2="296.4" y2="309.4" stroke="#111" stroke-width="1.1" />
<path d="M299.4 309.4 L295.2 307.3 L295.2 311.5 Z" fill="#111" stroke="none" stroke-width="0" />
<rect x="299.6" y="302.3" width="62.4" height="61.9" fill="none" stroke="#666" stroke-width="1" />
<g filter="url(#bl05)">
<path d="M314 317 C314.8 314.08 316 313.5 318 312.5 C320 311.5 323 311.58 326 311 C329 310.42 332.67 309.75 336 309 C339.33 308.25 342.83 307.08 346 306.5 C349.17 305.92 353 305.17 355 305.5 C357 305.83 358.17 307.08 358 308.5 C357.83 309.92 355.83 312.08 354 314 C352.17 315.92 348.92 317.67 347 320 C345.08 322.33 343.5 324.67 342.5 328 C341.5 331.33 341.33 336.33 341 340 C340.67 343.67 341.33 347.25 340.5 350 C339.67 352.75 338.42 355.33 336 356.5 C333.58 357.67 329.17 357.67 326 357 C322.83 356.33 319.08 354.83 317 352.5 C314.92 350.17 314.13 346.75 313.5 343 C312.87 339.25 313.12 334.33 313.2 330 C313.28 325.67 313.2 319.92 314 317 Z" fill="#ececec" stroke="#bcbcbc" stroke-width="0.6" />
<path d="M315.52 318.2 C316.26 315.52 317.36 314.98 319.2 314.06 C321.04 313.14 323.8 313.22 326.56 312.68 C329.32 312.14 332.69 311.53 335.76 310.84 C338.83 310.15 342.05 309.08 344.96 308.54 C347.87 308 351.4 307.31 353.24 307.62 C355.08 307.93 356.15 309.08 356 310.38 C355.85 311.68 354.01 313.68 352.32 315.44 C350.63 317.2 347.64 318.81 345.88 320.96 C344.12 323.11 342.66 325.25 341.74 328.32 C340.82 331.39 340.67 335.99 340.36 339.36 C340.05 342.73 340.67 346.03 339.9 348.56 C339.13 351.09 337.98 353.47 335.76 354.54 C333.54 355.61 329.47 355.61 326.56 355 C323.65 354.39 320.2 353.01 318.28 350.86 C316.36 348.71 315.64 345.57 315.06 342.12 C314.48 338.67 314.71 334.15 314.78 330.16 C314.86 326.17 314.78 320.88 315.52 318.2 Z" fill="#e4e4e4" stroke="#b8b8b8" stroke-width="0.5" />
<path d="M317.04 319.4 C317.71 316.95 318.72 316.46 320.4 315.62 C322.08 314.78 324.6 314.85 327.12 314.36 C329.64 313.87 332.72 313.31 335.52 312.68 C338.32 312.05 341.26 311.07 343.92 310.58 C346.58 310.09 349.8 309.46 351.48 309.74 C353.16 310.02 354.14 311.07 354 312.26 C353.86 313.45 352.18 315.27 350.64 316.88 C349.1 318.49 346.37 319.96 344.76 321.92 C343.15 323.88 341.82 325.84 340.98 328.64 C340.14 331.44 340 335.64 339.72 338.72 C339.44 341.8 340 344.81 339.3 347.12 C338.6 349.43 337.55 351.6 335.52 352.58 C333.49 353.56 329.78 353.56 327.12 353 C324.46 352.44 321.31 351.18 319.56 349.22 C317.81 347.26 317.15 344.39 316.62 341.24 C316.09 338.09 316.3 333.96 316.37 330.32 C316.44 326.68 316.37 321.85 317.04 319.4 Z" fill="#d8d8d8" stroke="#b0b0b0" stroke-width="0.5" />
<path d="M318.56 320.6 C319.17 318.38 320.08 317.94 321.6 317.18 C323.12 316.42 325.4 316.48 327.68 316.04 C329.96 315.6 332.75 315.09 335.28 314.52 C337.81 313.95 340.47 313.06 342.88 312.62 C345.29 312.18 348.2 311.61 349.72 311.86 C351.24 312.11 352.13 313.06 352 314.14 C351.87 315.22 350.35 316.86 348.96 318.32 C347.57 319.78 345.1 321.11 343.64 322.88 C342.18 324.65 340.98 326.43 340.22 328.96 C339.46 331.49 339.33 335.29 339.08 338.08 C338.83 340.87 339.33 343.59 338.7 345.68 C338.07 347.77 337.12 349.73 335.28 350.62 C333.44 351.51 330.09 351.51 327.68 351 C325.27 350.49 322.42 349.35 320.84 347.58 C319.26 345.81 318.66 343.21 318.18 340.36 C317.7 337.51 317.89 333.77 317.95 330.48 C318.02 327.19 317.95 322.82 318.56 320.6 Z" fill="#d2d2d2" stroke="#aaa" stroke-width="0.5" />
<path d="M320 340 C319.5 337.67 320.67 333 322 330 C323.33 327 325.67 324.5 328 322 C330.33 319.5 333.33 316.83 336 315 C338.67 313.17 341.67 311.67 344 311 C346.33 310.33 349.17 310.17 350 311 C350.83 311.83 350.33 314.17 349 316 C347.67 317.83 344.17 319.67 342 322 C339.83 324.33 337.83 327.33 336 330 C334.17 332.67 332.83 335.67 331 338 C329.17 340.33 326.83 343.67 325 344 C323.17 344.33 320.5 342.33 320 340 Z" fill="#bdbdbd" stroke="#a4a4a4" stroke-width="0.5" />
<path d="M322.8 337.4 C322.4 335.53 323.33 331.8 324.4 329.4 C325.47 327 327.33 325 329.2 323 C331.07 321 333.47 318.87 335.6 317.4 C337.73 315.93 340.13 314.73 342 314.2 C343.87 313.67 346.13 313.53 346.8 314.2 C347.47 314.87 347.07 316.73 346 318.2 C344.93 319.67 342.13 321.13 340.4 323 C338.67 324.87 337.07 327.27 335.6 329.4 C334.13 331.53 333.07 333.93 331.6 335.8 C330.13 337.67 328.27 340.33 326.8 340.6 C325.33 340.87 323.2 339.27 322.8 337.4 Z" fill="#a8a8a8" stroke="#999" stroke-width="0.5" />
<path d="M325.6 334.8 C325.3 333.4 326 330.6 326.8 328.8 C327.6 327 329 325.5 330.4 324 C331.8 322.5 333.6 320.9 335.2 319.8 C336.8 318.7 338.6 317.8 340 317.4 C341.4 317 343.1 316.9 343.6 317.4 C344.1 317.9 343.8 319.3 343 320.4 C342.2 321.5 340.1 322.6 338.8 324 C337.5 325.4 336.3 327.2 335.2 328.8 C334.1 330.4 333.3 332.2 332.2 333.6 C331.1 335 329.7 337 328.6 337.2 C327.5 337.4 325.9 336.2 325.6 334.8 Z" fill="#969696" stroke="#888" stroke-width="0.4" />
<path d="M336 313.5 C340 311.5 345 311 347 312.5 C345 316 340 317.5 336 317 Z" fill="#707070" stroke="none" stroke-width="0" />
</g>
<line x1="327" y1="330" x2="333" y2="323" stroke="#ececec" stroke-width="1.1" />
<line x1="335.6" y1="302.3" x2="335.6" y2="364.2" stroke="#666" stroke-width="1" />
<line x1="299.6" y1="332.3" x2="362" y2="332.3" stroke="#666" stroke-width="1" />
<text x="302" y="311.4" font-size="9.5" stroke="#111" stroke-width="0.25" textLength="18.5" lengthAdjust="spacingAndGlyphs" >42%</text>
<text x="359.7" y="311.4" font-size="9.5" text-anchor="end" stroke="#111" stroke-width="0.25" textLength="18.5" lengthAdjust="spacingAndGlyphs" >24%</text>
<text x="302" y="360.5" font-size="9.5" stroke="#111" stroke-width="0.25" textLength="18.5" lengthAdjust="spacingAndGlyphs" >30%</text>
<text x="354.5" y="360.5" font-size="9.5" text-anchor="end" stroke="#111" stroke-width="0.25" textLength="13.7" lengthAdjust="spacingAndGlyphs" >4%</text>
<line x1="211.3" y1="371.4" x2="211.3" y2="346" stroke="#111" stroke-width="1.5" />
<path d="M211.3 341.8 L207.8 347.9 L214.8 347.9 Z" fill="#111" stroke="none" stroke-width="0" />
<line x1="210.6" y1="371.4" x2="249.5" y2="371.4" stroke="#111" stroke-width="1.5" />
<path d="M254.4 371.4 L248.3 368.6 L248.3 374.2 Z" fill="#111" stroke="none" stroke-width="0" />
<text x="216.8" y="335" font-size="9.5" text-anchor="middle" stroke="#111" stroke-width="0.25" textLength="9.4" lengthAdjust="spacingAndGlyphs" transform="rotate(-90 216.8 335)" >kit</text>
<text x="257.2" y="375.9" font-size="10" stroke="#111" stroke-width="0.25" textLength="14" lengthAdjust="spacingAndGlyphs" >sca</text>
<line x1="291.9" y1="371.5" x2="291.9" y2="346.5" stroke="#111" stroke-width="1.5" />
<path d="M291.9 342.5 L288.9 348 L294.9 348 Z" fill="#111" stroke="none" stroke-width="0" />
<line x1="291.2" y1="371.5" x2="330.5" y2="371.5" stroke="#111" stroke-width="1.5" />
<path d="M334.5 371.5 L329 368.5 L329 374.5 Z" fill="#111" stroke="none" stroke-width="0" />
<text x="294.7" y="325.8" font-size="9.5" text-anchor="middle" stroke="#111" stroke-width="0.25" textLength="30.5" lengthAdjust="spacingAndGlyphs" transform="rotate(-90 294.7 325.8)" >CD150</text>
<text x="336" y="374.57" font-size="9.5" stroke="#111" stroke-width="0.25" textLength="23.3" lengthAdjust="spacingAndGlyphs" >CD41</text>
<line x1="414.3" y1="240.8" x2="414.3" y2="336" stroke="#111" stroke-width="1.1" />
<line x1="411.8" y1="335.5" x2="414.3" y2="335.5" stroke="#111" stroke-width="0.8" />
<line x1="413" y1="321.41" x2="414.3" y2="321.41" stroke="#111" stroke-width="0.8" />
<line x1="413" y1="313.17" x2="414.3" y2="313.17" stroke="#111" stroke-width="0.8" />
<line x1="413" y1="307.32" x2="414.3" y2="307.32" stroke="#111" stroke-width="0.8" />
<line x1="413" y1="302.79" x2="414.3" y2="302.79" stroke="#111" stroke-width="0.8" />
<line x1="413" y1="299.08" x2="414.3" y2="299.08" stroke="#111" stroke-width="0.8" />
<line x1="413" y1="295.95" x2="414.3" y2="295.95" stroke="#111" stroke-width="0.8" />
<line x1="413" y1="293.24" x2="414.3" y2="293.24" stroke="#111" stroke-width="0.8" />
<line x1="413" y1="290.84" x2="414.3" y2="290.84" stroke="#111" stroke-width="0.8" />
<line x1="411.8" y1="288.7" x2="414.3" y2="288.7" stroke="#111" stroke-width="0.8" />
<line x1="413" y1="274.61" x2="414.3" y2="274.61" stroke="#111" stroke-width="0.8" />
<line x1="413" y1="266.37" x2="414.3" y2="266.37" stroke="#111" stroke-width="0.8" />
<line x1="413" y1="260.52" x2="414.3" y2="260.52" stroke="#111" stroke-width="0.8" />
<line x1="413" y1="255.99" x2="414.3" y2="255.99" stroke="#111" stroke-width="0.8" />
<line x1="413" y1="252.28" x2="414.3" y2="252.28" stroke="#111" stroke-width="0.8" />
<line x1="413" y1="249.15" x2="414.3" y2="249.15" stroke="#111" stroke-width="0.8" />
<line x1="413" y1="246.44" x2="414.3" y2="246.44" stroke="#111" stroke-width="0.8" />
<line x1="413" y1="244.04" x2="414.3" y2="244.04" stroke="#111" stroke-width="0.8" />
<line x1="411.8" y1="241.9" x2="414.3" y2="241.9" stroke="#111" stroke-width="0.8" />
<line x1="413.8" y1="335.6" x2="478.5" y2="335.6" stroke="#111" stroke-width="1.1" />
<line x1="432.3" y1="335.6" x2="432.3" y2="338.5" stroke="#111" stroke-width="0.9" />
<line x1="462.6" y1="335.6" x2="462.6" y2="338.5" stroke="#111" stroke-width="0.9" />
<text x="409.5" y="244.31" font-size="7" text-anchor="end" stroke="#111" stroke-width="0.25" textLength="14.5" lengthAdjust="spacingAndGlyphs" >100</text>
<text x="409.5" y="291.11" font-size="7" text-anchor="end" stroke="#111" stroke-width="0.25" textLength="9.5" lengthAdjust="spacingAndGlyphs" >10</text>
<text x="409.5" y="337.91" font-size="7" text-anchor="end" stroke="#111" stroke-width="0.25" >1</text>
<text x="389.3" y="287.5" font-size="8.4" text-anchor="middle" stroke="#111" stroke-width="0.25" textLength="87" lengthAdjust="spacingAndGlyphs" transform="rotate(-90 389.3 287.5)" >% CD41+CD150+LSK</text>
<line x1="431.4" y1="248.5" x2="462.6" y2="248.5" stroke="#111" stroke-width="1.1" />
<line x1="431.4" y1="246.5" x2="431.4" y2="250.5" stroke="#111" stroke-width="1.1" />
<line x1="462.6" y1="246.5" x2="462.6" y2="250.5" stroke="#111" stroke-width="1.1" />
<circle cx="447" cy="243.6" r="1.2" fill="#111"/>
<line x1="419" y1="313.2" x2="440.6" y2="313.2" stroke="#111" stroke-width="1.5" />
<line x1="432.4" y1="308.5" x2="432.4" y2="319" stroke="#111" stroke-width="1.2" />
<line x1="429.4" y1="308.5" x2="435.4" y2="308.5" stroke="#111" stroke-width="1.3" />
<line x1="429.4" y1="319" x2="435.4" y2="319" stroke="#111" stroke-width="1.3" />
<circle cx="428.6" cy="308.2" r="2" fill="#111"/>
<circle cx="434.6" cy="310.3" r="2" fill="#111"/>
<circle cx="430.8" cy="326.3" r="2" fill="#111"/>
<line x1="452" y1="273.8" x2="473.4" y2="273.8" stroke="#111" stroke-width="1.5" />
<line x1="462.6" y1="268.9" x2="462.6" y2="278.7" stroke="#111" stroke-width="1.2" />
<line x1="459.6" y1="268.9" x2="465.6" y2="268.9" stroke="#111" stroke-width="1.3" />
<line x1="459.6" y1="278.7" x2="465.6" y2="278.7" stroke="#111" stroke-width="1.3" />
<rect x="460.9" y="265.9" width="3.8" height="3.8" fill="#111" />
<rect x="460.5" y="268.9" width="3.8" height="3.8" fill="#111" />
<rect x="460.3" y="280.3" width="3.8" height="3.8" fill="#111" />
<text x="432.3" y="350.38" font-size="7.5" text-anchor="middle" stroke="#111" stroke-width="0.25" textLength="11.5" lengthAdjust="spacingAndGlyphs" >+/+</text>
<text x="462.6" y="350.38" font-size="7.5" text-anchor="middle" stroke="#111" stroke-width="0.25" textLength="12" lengthAdjust="spacingAndGlyphs" >Δ/Δ</text>
<text x="432.3" y="359.18" font-size="7.5" text-anchor="middle" stroke="#111" stroke-width="0.25" textLength="17.5" lengthAdjust="spacingAndGlyphs" >n = 3</text>
<text x="462.6" y="359.18" font-size="7.5" text-anchor="middle" stroke="#111" stroke-width="0.25" textLength="17.5" lengthAdjust="spacingAndGlyphs" >n = 3</text>
<text x="10.6" y="405.2" font-size="12" font-weight="bold" >E</text>
<text x="41.8" y="412.7" font-size="9.3" font-style="italic" stroke="#111" stroke-width="0.25" textLength="26.2" lengthAdjust="spacingAndGlyphs" >Runx1</text>
<text x="68.3" y="409.1" font-size="6.2" fill="#333" stroke="#333" stroke-width="0.25" textLength="12.8" lengthAdjust="spacingAndGlyphs" >+/+</text>
<text x="82.6" y="412.7" font-size="9.3" font-style="italic" stroke="#111" stroke-width="0.25" textLength="14.6" lengthAdjust="spacingAndGlyphs" >vav</text>
<text x="97.2" y="412.7" font-size="9.3" stroke="#111" stroke-width="0.25" textLength="17" lengthAdjust="spacingAndGlyphs" >-cre</text>
<text x="41.8" y="482.3" font-size="9.3" font-style="italic" stroke="#111" stroke-width="0.25" textLength="27.7" lengthAdjust="spacingAndGlyphs" >Runx1</text>
<text x="69.8" y="478.1" font-size="6.8" fill="#444" stroke="#444" stroke-width="0.25" font-family='"Liberation Serif", serif' textLength="12.9" lengthAdjust="spacingAndGlyphs" >Δ/Δ</text>
<text x="83.6" y="482.3" font-size="9.3" font-style="italic" stroke="#111" stroke-width="0.25" textLength="14.4" lengthAdjust="spacingAndGlyphs" >vav</text>
<text x="98" y="482.3" font-size="9.3" stroke="#111" stroke-width="0.25" textLength="17" lengthAdjust="spacingAndGlyphs" >-cre</text>
<path d="M45 461 L52 460.2 L58 458.8 L63 456.5 L67 453 L70 448 L73 442.5 L76 436.5 L79 430 L82 424 L84.5 420 L86.5 418 L88.5 418 L90.5 424 L92.5 431 L95 440.5 L98 449 L101 455 L104 458 L110 459.5 L120 460 L133 460.3 L133 461" fill="#777" stroke="none" stroke-width="0" />
<line x1="103.6" y1="417.2" x2="103.6" y2="461" stroke="#333" stroke-width="1.1" />
<line x1="103.6" y1="457.2" x2="132.6" y2="457.2" stroke="#333" stroke-width="1.1" />
<line x1="132.4" y1="417.2" x2="132.4" y2="461" stroke="#555" stroke-width="1.6" />
<rect x="44.4" y="417.2" width="89.6" height="43.8" fill="none" stroke="#222" stroke-width="1.1" />
<path d="M45 530.4 L51 529.4 L56.4 527.3 L61.7 523.5 L65 520 L68 516 L71 510 L73.4 503.4 L77.6 495 L80.5 490.5 L83 488 L85.5 488.5 L89.2 497 L91.5 503.5 L93.5 510.8 L97.7 523.5 L102 528.6 L106 527.3 L109 524.5 L111.4 521.3 L114.6 519.2 L118.9 522.4 L125.2 526.6 L131.5 529.6 L133 530 L133 530.4" fill="#777" stroke="none" stroke-width="0" />
<line x1="103.6" y1="487.5" x2="103.6" y2="530.4" stroke="#333" stroke-width="1.1" />
<line x1="103.6" y1="522.8" x2="132.6" y2="522.8" stroke="#333" stroke-width="1.1" />
<line x1="132.4" y1="487.5" x2="132.4" y2="530.4" stroke="#555" stroke-width="1.6" />
<rect x="44.4" y="487.5" width="89.6" height="42.9" fill="none" stroke="#222" stroke-width="1.1" />
<line x1="40.6" y1="540.2" x2="80.5" y2="540.2" stroke="#111" stroke-width="1.2" />
<path d="M84.6 540.2 L79.5 537.6 L79.5 542.8 Z" fill="#111" stroke="none" stroke-width="0" />
<text x="87.5" y="544.24" font-size="10" stroke="#111" stroke-width="0.25" textLength="24.5" lengthAdjust="spacingAndGlyphs" >CD41</text>
<text x="51.2" y="561" font-size="8.8" stroke="#111" stroke-width="0.25" textLength="12.3" lengthAdjust="spacingAndGlyphs" >Lin</text>
<text x="63.4" y="557.4" font-size="6" stroke="#111" stroke-width="0.25" textLength="3.8" lengthAdjust="spacingAndGlyphs" >−</text>
<text x="67.3" y="561" font-size="8.8" stroke="#111" stroke-width="0.25" textLength="14.4" lengthAdjust="spacingAndGlyphs" >Sca</text>
<text x="81.6" y="557.4" font-size="6" stroke="#111" stroke-width="0.25" textLength="3.8" lengthAdjust="spacingAndGlyphs" >−</text>
<text x="85.4" y="561" font-size="8.8" stroke="#111" stroke-width="0.25" textLength="38.5" lengthAdjust="spacingAndGlyphs" >CD45.2</text>
<text x="124.2" y="557.4" font-size="6" stroke="#111" stroke-width="0.25" textLength="3.5" lengthAdjust="spacingAndGlyphs" >+</text>
<line x1="184.6" y1="425.2" x2="184.6" y2="533.2" stroke="#111" stroke-width="1.1" />
<line x1="182.1" y1="532.7" x2="184.6" y2="532.7" stroke="#111" stroke-width="0.9" />
<line x1="183.1" y1="519.68" x2="184.6" y2="519.68" stroke="#111" stroke-width="0.9" />
<line x1="182.1" y1="506.65" x2="184.6" y2="506.65" stroke="#111" stroke-width="0.9" />
<line x1="183.1" y1="493.63" x2="184.6" y2="493.63" stroke="#111" stroke-width="0.9" />
<line x1="182.1" y1="480.6" x2="184.6" y2="480.6" stroke="#111" stroke-width="0.9" />
<line x1="183.1" y1="467.58" x2="184.6" y2="467.58" stroke="#111" stroke-width="0.9" />
<line x1="182.1" y1="454.55" x2="184.6" y2="454.55" stroke="#111" stroke-width="0.9" />
<line x1="183.1" y1="441.53" x2="184.6" y2="441.53" stroke="#111" stroke-width="0.9" />
<line x1="182.1" y1="428.5" x2="184.6" y2="428.5" stroke="#111" stroke-width="0.9" />
<text x="180.3" y="535.45" font-size="8" text-anchor="end" stroke="#111" stroke-width="0.25" textLength="4.6" lengthAdjust="spacingAndGlyphs" >0</text>
<text x="180.3" y="509.4" font-size="8" text-anchor="end" stroke="#111" stroke-width="0.25" textLength="9.3" lengthAdjust="spacingAndGlyphs" >10</text>
<text x="180.3" y="483.35" font-size="8" text-anchor="end" stroke="#111" stroke-width="0.25" textLength="9.3" lengthAdjust="spacingAndGlyphs" >20</text>
<text x="180.3" y="457.3" font-size="8" text-anchor="end" stroke="#111" stroke-width="0.25" textLength="9.3" lengthAdjust="spacingAndGlyphs" >30</text>
<text x="180.3" y="431.25" font-size="8" text-anchor="end" stroke="#111" stroke-width="0.25" textLength="9.3" lengthAdjust="spacingAndGlyphs" >40</text>
<line x1="184.1" y1="532.7" x2="249.3" y2="532.7" stroke="#111" stroke-width="1.2" />
<line x1="201.5" y1="532.7" x2="201.5" y2="535.6" stroke="#111" stroke-width="0.9" />
<line x1="233.6" y1="532.7" x2="233.6" y2="535.6" stroke="#111" stroke-width="0.9" />
<text x="162.8" y="481.9" font-size="8.3" text-anchor="middle" stroke="#111" stroke-width="0.25" textLength="127.5" lengthAdjust="spacingAndGlyphs" transform="rotate(-90 162.8 481.9)" >%CD41+ in MP (donor derived)</text>
<line x1="199.5" y1="430.9" x2="230.6" y2="430.9" stroke="#111" stroke-width="1.3" />
<line x1="199.5" y1="428.4" x2="199.5" y2="433.5" stroke="#111" stroke-width="1.3" />
<line x1="230.6" y1="428.4" x2="230.6" y2="433.5" stroke="#111" stroke-width="1.3" />
<circle cx="213.1" cy="425.2" r="1.2" fill="#111"/>
<circle cx="217.2" cy="425.2" r="1.2" fill="#111"/>
<line x1="192" y1="527" x2="211.5" y2="527" stroke="#111" stroke-width="1.5" />
<circle cx="195.5" cy="527.2" r="2.1" fill="#111"/>
<circle cx="200.6" cy="527.2" r="2.1" fill="#111"/>
<circle cx="205.6" cy="527.2" r="2.1" fill="#111"/>
<line x1="222.7" y1="467.6" x2="244" y2="467.6" stroke="#111" stroke-width="1.5" />
<line x1="233.6" y1="456.6" x2="233.6" y2="478.8" stroke="#111" stroke-width="1.2" />
<line x1="230.4" y1="456.6" x2="236.8" y2="456.6" stroke="#111" stroke-width="1.3" />
<line x1="230.4" y1="478.8" x2="236.8" y2="478.8" stroke="#111" stroke-width="1.3" />
<rect x="231.7" y="445.4" width="4" height="4" fill="#111" />
<rect x="231.7" y="466.9" width="4" height="4" fill="#111" />
<rect x="231.7" y="483.3" width="4" height="4" fill="#111" />
<text x="201.5" y="547.35" font-size="8" text-anchor="middle" stroke="#111" stroke-width="0.25" textLength="12.5" lengthAdjust="spacingAndGlyphs" >+/+</text>
<text x="233.6" y="547.35" font-size="8" text-anchor="middle" stroke="#111" stroke-width="0.25" textLength="12.8" lengthAdjust="spacingAndGlyphs" >Δ/Δ</text>
<text x="280.4" y="404.6" font-size="12" font-weight="bold" >F</text>
<path d="M338 448.5 L349.3 449.7 L388.5 425.4 L394.3 440.4 L362 456.5 L391 478.5 L386.2 494.7 L347 463.5 L338 466" fill="#d2d2d2" stroke="none" stroke-width="0" />
<path d="M348.62 457.05 L354.53 433.82 L359.62 435.12 L353 422.6 L341.2 430.43 L346.29 431.73 L340.38 454.95" fill="#d2d2d2" stroke="none" stroke-width="0" />
<path d="M406.76 427.87 L433.41 415.72 L435.27 419.82 L441.2 407.5 L428.02 403.89 L429.88 407.99 L403.24 420.13" fill="#d2d2d2" stroke="none" stroke-width="0" />
<path d="M403.36 434.92 L430.67 446.36 L428.93 450.51 L442 446.5 L435.7 434.37 L433.96 438.52 L406.64 427.08" fill="#d2d2d2" stroke="none" stroke-width="0" />
<path d="M406.55 492.96 L432.98 482.59 L434.62 486.78 L441.2 474.8 L428.23 470.49 L429.87 474.68 L403.45 485.04" fill="#d2d2d2" stroke="none" stroke-width="0" />
<path d="M403.31 499.9 L430.68 511.73 L428.89 515.86 L442 512 L435.84 499.8 L434.05 503.93 L406.69 492.1" fill="#d2d2d2" stroke="none" stroke-width="0" />
<circle cx="314.4" cy="457" r="10.8" fill="#f0f0f0" stroke="#3a3a3a" stroke-width="1.1"/>
<circle cx="316.6" cy="456.4" r="8.3" fill="url(#gHSC)" stroke="#2a2a2a" stroke-width="1.1"/>
<circle cx="333.6" cy="457" r="10.8" fill="#f0f0f0" stroke="#3a3a3a" stroke-width="1.1"/>
<circle cx="335.7" cy="456.4" r="8.3" fill="url(#gHSC)" stroke="#2a2a2a" stroke-width="1.1"/>
<circle cx="399.4" cy="427.3" r="10.9" fill="#dfe7f5" stroke="#1e2848" stroke-width="1.1"/>
<circle cx="398.4" cy="427.8" r="8.7" fill="url(#gGMP)" stroke="#1e2c58" stroke-width="1.1"/>
<circle cx="399.1" cy="493.2" r="11.3" fill="#f2e4bc" stroke="#2a2010" stroke-width="1.1"/>
<circle cx="400.2" cy="492.6" r="9.2" fill="url(#gMEP)" stroke="#3a2a10" stroke-width="1.1"/>
<path d="M452 397 C456 394 464 394.5 467 398 C469.5 402 469 408 467 412 C464.5 416 458 417 453.5 416 C450 414.5 449.5 410 449.3 405 C449.2 401 450 398.5 452 397 Z" fill="url(#gG)" stroke="#1a2466" stroke-width="1.2" />
<path d="M455 401.8 C457.5 400.6 461.5 401.8 462.3 404.2 C460.5 406.6 456.5 406.4 455.3 409.3 C456.3 411.3 460 411 462.6 409.6" fill="none" stroke="#16205a" stroke-width="2.3" stroke-linecap="round" stroke-linejoin="round"/>
<path d="M452 436 C456 433.5 462 434 465 437 C467 441 466.5 447 464.5 451 C462 454.5 456.5 455.5 453 454 C450 452 449.3 447 449.3 442 C449.3 439.5 450.3 437.3 452 436 Z" fill="#c6e3ee" stroke="#2a4450" stroke-width="1.1" />
<path d="M455 440 C458 437.5 463 439 463 443 C463 447 460 451 456.5 452 C455 451 457 448 457.5 446 C457 444 454 443 455 440 Z" fill="#5a94a8" stroke="#1d4452" stroke-width="0.9" />
<circle cx="457.3" cy="475.6" r="6.4" fill="url(#gEry)" stroke="#5a2020" stroke-width="1"/>
<path d="M452 496.2 L460 496.5 L467 498.8 L472 503.5 L475.3 509.5 L474 515.5 L471 521.2 L464 524.5 L458.3 525.6 L452.4 524.8 L446 521 L441.8 515.4 L444.5 508 L448.5 501.5 L452 496.2" fill="#e0ebc6" stroke="#4a5636" stroke-width="1" stroke-linejoin="round"/>
<g filter="url(#bl05)">
<path d="M452 513 L455 509.5 L458 512 L461.5 508 L464 510.5 L466 506.5 L470.5 511 L468 514 L464.5 513.5 L461.5 516 L458.5 514 L455 517 L452.5 516.5" fill="#86a85a" stroke="none" stroke-width="0" />
</g>
<text x="292.7" y="444.3" font-size="9" stroke="#111" stroke-width="0.25" textLength="41.5" lengthAdjust="spacingAndGlyphs" >HSC/MPP</text>
<text x="344.6" y="420.3" font-size="9" stroke="#111" stroke-width="0.25" textLength="17.4" lengthAdjust="spacingAndGlyphs" >CLP</text>
<text x="389.4" y="411.7" font-size="9" stroke="#111" stroke-width="0.25" textLength="19.6" lengthAdjust="spacingAndGlyphs" >GMP</text>
<text x="391.3" y="479.8" font-size="9" stroke="#111" stroke-width="0.25" textLength="18.7" lengthAdjust="spacingAndGlyphs" >MEP</text>
<text x="479.8" y="410.43" font-size="8.8" stroke="#111" stroke-width="0.25" textLength="5.9" lengthAdjust="spacingAndGlyphs" >G</text>
<text x="479.2" y="449.23" font-size="8.8" stroke="#111" stroke-width="0.25" textLength="6.6" lengthAdjust="spacingAndGlyphs" >M</text>
<text x="479.2" y="478.63" font-size="8.8" stroke="#111" stroke-width="0.25" textLength="11.4" lengthAdjust="spacingAndGlyphs" >Ery</text>
<text x="479.2" y="512.03" font-size="8.8" stroke="#111" stroke-width="0.25" textLength="15.6" lengthAdjust="spacingAndGlyphs" >Meg</text>
<rect x="328" y="533.5" width="122.6" height="52.2" fill="none" stroke="#111" stroke-width="1.2" />
<line x1="328" y1="559.3" x2="450.6" y2="559.3" stroke="#111" stroke-width="1.2" />
<path d="M450.6 533.5 L458.3 533.5 L450.6 559.3" fill="#9a9a9a" stroke="none" stroke-width="0" />
<path d="M450.6 585.7 L458.3 585.7 L450.6 559.3" fill="#9a9a9a" stroke="none" stroke-width="0" />
<line x1="458.3" y1="533.5" x2="450.6" y2="559.3" stroke="#111" stroke-width="1.1" />
<line x1="450.6" y1="559.3" x2="458.3" y2="585.7" stroke="#111" stroke-width="1.1" />
<line x1="450.6" y1="533.5" x2="450.6" y2="585.7" stroke="#111" stroke-width="1.4" />
<line x1="450.6" y1="533.5" x2="458.3" y2="533.5" stroke="#111" stroke-width="1.1" />
<line x1="450.6" y1="585.7" x2="458.3" y2="585.7" stroke="#111" stroke-width="1.1" />
<path d="M329 559.5 L330 559.5 L331 559.5 L332 559.5 L333 559.5 L334 559.5 L335 559.5 L336 559.5 L337 559.51 L338 559.51 L339 559.51 L340 559.53 L341 559.54 L342 559.57 L343 559.62 L344 559.71 L345 559.85 L346 560.08 L347 560.47 L348 561.09 L349 562.07 L350 563.55 L351 565.63 L352 568.3 L353 571.35 L354 574.4 L355 577.07 L356 579.15 L357 580.63 L358 581.61 L359 582.23 L360 582.62 L361 582.85 L362 582.99 L363 583.08 L364 583.13 L365 583.16 L366 583.17 L367 583.19 L368 583.19 L369 583.19 L370 583.2 L371 583.2 L372 583.2 L373 583.2 L374 583.2 L375 583.2 L376 583.2 L377 583.2 L378 583.2 L379 583.2 L380 583.2 L381 583.2 L382 583.2 L383 583.2 L384 583.2 L385 583.2 L386 583.2 L387 583.2 L388 583.2 L389 583.2 L390 583.2 L391 583.2 L392 583.2 L393 583.2 L394 583.2 L395 583.19 L396 583.19 L397 583.18 L398 583.16 L399 583.11 L400 583.01 L401 582.82 L402 582.43 L403 581.67 L404 580.19 L405 577.5 L406 573.07 L407 566.86 L408 559.84 L409 553.63 L410 549.2 L411 546.51 L412 545.03 L413 544.27 L414 543.88 L415 543.69 L416 543.59 L417 543.54 L418 543.52 L419 543.51 L420 543.51 L421 543.5 L422 543.5 L423 543.5 L424 543.5 L425 543.5 L426 543.5 L427 543.5 L428 543.5 L429 543.5 L430 543.5 L431 543.5 L432 543.5 L433 543.5 L434 543.5 L435 543.5 L436 543.5 L437 543.5 L438 543.5 L439 543.5 L440 543.5 L441 543.5 L442 543.5 L443 543.78 L444 544.24 L445 545.35 L446 547.67 L447 551.25 L448 554.83 L449 557.15 L450 558.26" fill="none" stroke="#c47a3c" stroke-width="1.4" stroke-linejoin="round" opacity="0.95"/>
<path d="M329 584.3 L360 584.3 L361 584.3 L362 584.3 L363 584.3 L364 584.3 L365 584.3 L366 584.3 L367 584.3 L368 584.3 L369 584.3 L370 584.3 L371 584.3 L372 584.3 L373 584.3 L374 584.3 L375 584.3 L376 584.3 L377 584.3 L378 584.3 L379 584.3 L380 584.3 L381 584.3 L382 584.3 L383 584.3 L384 584.3 L385 584.3 L386 584.3 L387 584.3 L388 584.3 L389 584.3 L390 584.3 L391 584.3 L392 584.3 L393 584.3 L394 584.3 L395 584.3 L396 584.3 L397 584.3 L398 584.3 L399 584.3 L400 584.3 L401 584.3 L402 584.3 L403 584.3 L404 584.3 L405 584.3 L406 584.3 L407 584.29 L408 584.29 L409 584.28 L410 584.26 L411 584.24 L412 584.19 L413 584.11 L414 583.97 L415 583.73 L416 583.31 L417 582.59 L418 581.4 L419 579.46 L420 576.44 L421 572.04 L422 566.25 L423 559.55 L424 552.85 L425 547.06 L426 542.66 L427 539.64 L428 537.7 L429 536.51 L430 535.79 L431 535.37 L432 535.13 L433 534.99 L434 534.91 L435 534.86 L436 534.84 L437 534.82 L438 534.81 L439 534.81 L440 534.8 L441 534.8 L442 534.8 L443 534.8 L444 534.8 L445 534.8 L446 534.8 L447 534.8 L448 534.8 L449 534.8 L450 534.8" fill="none" stroke="#b4d48a" stroke-width="1.3" stroke-linejoin="round" opacity="0.95"/>
<path d="M329 559.5 L330 559.5 L331 559.5 L332 559.5 L333 559.5 L334 559.51 L335 559.51 L336 559.51 L337 559.52 L338 559.52 L339 559.54 L340 559.55 L341 559.58 L342 559.61 L343 559.66 L344 559.74 L345 559.84 L346 560 L347 560.22 L348 560.52 L349 560.94 L350 561.5 L351 562.21 L352 563.08 L353 564.08 L354 565.15 L355 566.22 L356 567.22 L357 568.09 L358 568.8 L359 569.36 L360 569.78 L361 570.08 L362 570.3 L363 570.46 L364 570.56 L365 570.64 L366 570.69 L367 570.72 L368 570.75 L369 570.76 L370 570.78 L371 570.78 L372 570.79 L373 570.79 L374 570.79 L375 570.8 L376 570.8 L377 570.8 L378 570.8 L379 570.8 L380 570.8 L381 570.8 L382 570.8 L383 570.8 L384 570.8 L385 570.8 L386 570.8 L387 570.8 L388 570.8 L389 570.8 L390 570.8 L391 570.8 L392 570.8 L393 570.8 L394 570.8 L395 570.8 L396 570.8 L397 570.8 L398 570.8 L399 570.8 L400 570.8 L401 570.8 L402 570.79 L403 570.78 L404 570.75 L405 570.67 L406 570.46 L407 569.9 L408 568.54 L409 565.69 L410 561.3 L411 556.91 L412 554.06 L413 552.7 L414 552.14 L415 551.93 L416 551.85 L417 551.82 L418 551.81 L419 551.8 L420 551.8 L421 551.8 L422 551.8 L423 551.8 L424 551.8 L425 551.8 L426 551.8 L427 551.8 L428 551.8 L429 551.8 L430 551.8 L431 551.8 L432 551.8 L433 551.8 L434 551.8 L435 551.8 L436 551.8 L437 551.8 L438 551.8 L439 551.8 L440 551.8 L441 551.8 L442 551.8 L443 551.8 L444 551.8 L445 551.8 L446 551.8 L447 551.8 L448 551.8 L449 551.8 L450 551.8" fill="none" stroke="#7fa4d8" stroke-width="1.4" stroke-linejoin="round" opacity="0.95"/>
<path d="M393 571 L394 571 L395 571 L396 571 L397 570.99 L398 570.98 L399 570.95 L400 570.86 L401 570.62 L402 569.99 L403 568.47 L404 565.3 L405 560.4 L406 555.5 L407 552.33 L408 550.81 L409 550.18 L410 549.94 L411 549.85 L412 549.82 L413 549.81 L414 549.8 L415 549.8 L416 549.8 L417 549.8 L418 549.8 L419 549.8 L420 549.8 L421 549.8 L422 549.8 L423 549.8 L424 549.8 L425 549.8 L426 549.8 L427 549.8 L428 549.8 L429 549.8 L430 549.8 L431 549.8 L432 549.8 L433 549.8 L434 549.8 L435 549.8 L436 549.8 L437 549.8 L438 549.8 L439 549.8 L440 549.8 L441 549.8 L442 549.8 L443 549.8 L444 549.8 L445 549.8 L446 549.8 L447 549.8 L448 549.8 L449 549.8 L450 549.8" fill="none" stroke="#2a2a7c" stroke-width="1.4" stroke-linejoin="round" opacity="0.95"/>
<text x="309.6" y="560.3" font-size="9" text-anchor="middle" stroke="#111" stroke-width="0.25" textLength="26.5" lengthAdjust="spacingAndGlyphs" transform="rotate(-90 309.6 560.3)" >Runx1</text>
<text x="321.2" y="559.7" font-size="9.2" text-anchor="middle" stroke="#111" stroke-width="0.25" textLength="35.2" lengthAdjust="spacingAndGlyphs" transform="rotate(-90 321.2 559.7)" >function</text>
<text x="462.5" y="541.74" font-size="10" stroke="#111" stroke-width="0.25" textLength="43.5" lengthAdjust="spacingAndGlyphs" >Activating</text>
<text x="462.5" y="584.04" font-size="10" stroke="#111" stroke-width="0.25" textLength="50" lengthAdjust="spacingAndGlyphs" >Repressive</text>
</g>
<rect x="0.5" y="0.5" width="518.8" height="592.8" fill="none" stroke="#111" stroke-width="1.2"/>
</svg>
</body></html>
